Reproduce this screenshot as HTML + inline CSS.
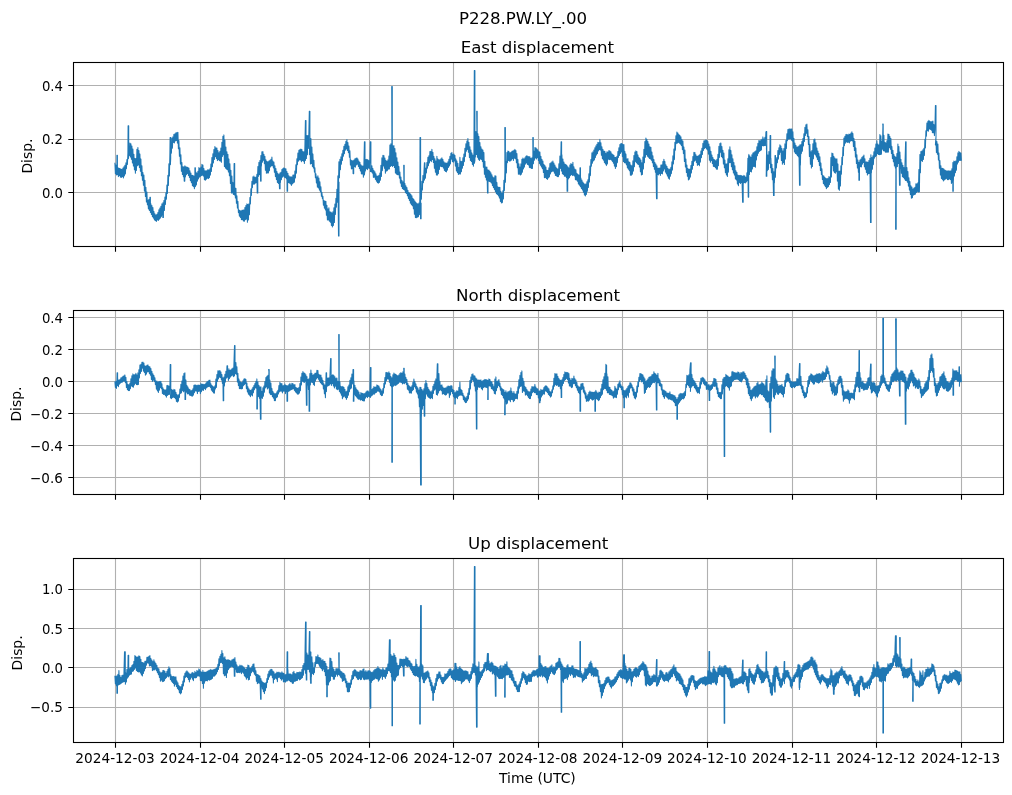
<!DOCTYPE html>
<html lang="en"><head><meta charset="utf-8"><title>P228.PW.LY_.00</title>
<style>html,body{margin:0;padding:0;background:#fff;}body{width:1012px;height:795px;overflow:hidden;}svg{display:block;will-change:transform;}text{font-family:"DejaVu Sans","Liberation Sans",sans-serif;fill:#000;}.t12{font-size:16.667px;}.t10{font-size:13.889px;}.g{stroke:#b0b0b0;stroke-width:1.1;fill:none;}.s{stroke:#000;stroke-width:1.1;fill:none;}.k{stroke:#000;stroke-width:1.1;fill:none;}.d{stroke:#1f77b4;stroke-width:1.05;fill:none;stroke-linejoin:round;stroke-linecap:butt;}</style></head><body>
<svg width="1012" height="795" viewBox="0 0 1012 795">
<rect width="1012" height="795" fill="#fff"/>
<text class="t12" x="523" y="23.7" text-anchor="middle" style="letter-spacing:-0.08px">P228.PW.LY_.00</text>
<g>
<path class="g" d="M115.50 62.50V246.50M200.50 62.50V246.50M284.50 62.50V246.50M369.50 62.50V246.50M453.50 62.50V246.50M538.50 62.50V246.50M622.50 62.50V246.50M707.50 62.50V246.50M792.50 62.50V246.50M876.50 62.50V246.50M961.50 62.50V246.50M73.50 85.50H1003.50M73.50 139.50H1003.50M73.50 192.50H1003.50"/>
<clipPath id="c0"><rect x="73.50" y="62.50" width="930.00" height="184.00"/></clipPath>
<path class="d" clip-path="url(#c0)" d="M114.9 162.7L115.4 173.8L115.9 164.9L116.4 175.0L116.9 165.8L116.9 155.2L117.4 155.2L117.4 170.2L117.4 174.6L117.9 167.6L118.4 176.6L118.9 168.2L119.4 175.6L119.9 168.4L120.4 177.3L120.9 169.0L121.4 177.5L121.9 169.4L122.4 176.7L122.9 168.0L123.4 178.0L123.9 166.8L124.4 176.0L124.9 165.3L125.4 173.9L125.9 162.9L126.4 168.7L126.9 159.5L127.4 164.4L127.9 152.9L128.1 125.7L128.7 125.7L128.7 155.8L128.4 158.7L128.9 146.3L129.4 155.5L129.9 143.0L130.4 157.1L130.9 143.7L131.4 159.2L131.9 146.0L132.4 163.0L132.9 149.1L133.4 165.9L133.9 154.3L134.4 169.8L134.9 158.4L135.4 173.2L135.9 158.5L136.4 170.5L136.9 149.3L137.4 165.7L137.9 147.6L138.4 165.0L138.9 150.5L139.4 167.6L139.9 153.9L140.4 171.3L140.9 158.9L141.4 175.7L141.9 165.7L142.4 180.2L142.9 172.6L143.4 185.3L143.9 175.1L144.4 191.1L144.9 180.3L145.4 196.4L145.9 187.2L146.4 201.9L146.9 192.0L147.4 204.8L147.9 200.3L148.4 209.0L148.9 199.2L149.4 210.5L149.9 201.1L149.9 197.3L150.4 197.3L150.4 206.7L150.4 212.4L150.9 203.7L151.4 214.4L151.9 205.5L152.4 216.7L152.9 207.6L153.4 218.1L153.9 211.4L154.4 219.9L154.9 213.8L155.4 220.8L155.9 215.1L156.4 221.5L156.9 214.3L157.4 219.9L157.9 212.5L158.4 220.4L158.9 209.7L159.4 219.2L159.9 208.0L160.4 218.1L160.9 206.3L161.4 216.6L161.9 203.9L162.4 214.9L162.9 202.8L162.8 217.4L163.4 217.4L163.4 208.1L163.4 213.4L163.9 200.6L164.4 210.5L164.9 197.1L165.4 204.5L165.9 192.8L166.4 199.3L166.9 185.1L167.4 193.4L167.9 175.4L168.4 185.4L168.9 163.7L169.4 176.0L169.9 152.6L170.1 137.5L170.7 137.5L170.7 158.6L170.4 164.6L170.9 143.5L171.4 153.2L171.9 138.1L172.4 148.3L172.9 136.9L173.4 142.4L173.9 134.4L174.4 142.9L174.9 133.8L175.4 141.0L175.9 132.7L176.4 140.5L176.9 132.6L177.4 143.1L177.9 132.2L178.4 148.8L178.9 140.5L179.4 156.2L179.9 147.8L180.4 164.0L180.9 154.7L181.4 171.2L181.9 162.6L182.4 174.5L182.9 166.7L183.4 176.8L183.9 166.8L184.2 181.1L184.8 181.1L184.8 172.0L184.4 177.2L184.9 165.8L185.4 177.0L185.9 166.8L186.4 174.8L186.9 167.1L187.4 173.4L187.9 167.4L188.4 175.5L188.9 168.1L189.4 177.5L189.9 170.8L190.4 180.8L190.9 173.0L191.4 182.7L191.9 175.2L192.4 185.8L192.9 175.3L193.4 186.6L193.9 176.0L194.4 188.8L194.9 175.4L194.9 167.8L195.4 167.8L195.4 181.0L195.4 186.6L195.9 171.9L196.4 185.0L196.9 173.0L197.4 181.1L197.9 171.2L198.4 179.0L198.9 167.5L199.4 177.2L199.9 168.2L200.4 176.5L200.9 167.1L201.4 175.7L201.9 164.2L202.4 175.3L202.9 165.0L203.4 176.0L203.9 168.5L204.4 179.8L204.9 170.8L205.4 180.3L205.9 170.9L206.4 179.3L206.9 170.6L207.4 178.3L207.9 169.6L208.4 178.6L208.9 170.1L209.4 177.8L209.9 168.8L210.4 175.1L210.9 164.0L211.4 171.4L211.9 157.6L212.4 166.7L212.9 153.7L213.4 162.9L213.9 149.6L214.4 159.5L214.9 146.5L215.4 156.6L215.9 147.8L216.4 158.6L216.9 148.1L217.4 160.6L217.9 150.6L218.4 159.8L218.9 152.8L219.4 160.8L219.9 151.3L220.4 161.1L220.9 148.1L221.4 162.2L221.9 142.2L222.4 156.5L222.9 136.3L223.4 154.7L223.9 134.9L224.4 166.5L224.9 139.9L225.4 168.1L225.9 147.0L226.4 169.1L226.9 151.7L227.4 169.7L227.9 154.2L228.4 171.9L228.9 158.9L229.4 175.7L229.9 163.7L230.4 183.4L230.9 170.2L231.4 193.0L231.9 176.0L232.4 193.0L232.9 182.4L233.4 194.4L233.9 185.2L234.1 163.6L234.7 163.6L234.7 190.1L234.4 195.0L234.9 187.6L235.4 198.0L235.9 188.3L236.4 203.2L236.9 195.8L237.4 208.1L237.9 201.3L238.4 212.6L238.9 209.9L239.4 216.3L239.9 210.3L240.4 217.5L240.9 211.1L241.4 219.8L241.9 210.2L242.4 219.8L242.9 210.1L243.4 221.1L243.9 209.9L244.4 221.3L244.9 207.6L245.4 219.7L245.9 205.6L246.4 219.1L246.9 203.9L247.4 222.2L247.9 204.4L248.4 219.9L248.9 203.9L249.4 214.8L249.9 197.6L250.4 203.9L250.9 188.8L251.4 195.5L251.9 181.4L252.4 187.8L252.9 176.9L253.4 184.1L253.9 176.1L254.4 184.1L254.9 177.4L255.4 183.3L255.9 177.1L256.4 182.7L256.9 174.3L257.2 192.9L257.8 192.9L257.8 177.5L257.4 180.6L257.9 166.6L258.4 176.5L258.9 162.4L259.4 174.8L259.9 160.5L260.6 181.1L261.1 181.1L261.1 166.5L260.4 172.5L260.9 155.5L261.4 166.3L261.9 151.7L262.4 162.2L262.9 151.6L263.4 160.3L263.9 154.2L264.4 163.6L264.9 156.3L265.4 170.3L265.9 159.8L266.4 173.2L266.9 161.4L267.4 172.9L267.9 161.8L268.4 172.9L268.9 161.1L269.4 170.7L269.9 160.3L270.4 167.0L270.9 159.3L271.4 166.0L271.9 157.0L272.4 165.7L272.9 161.1L273.4 168.0L273.9 162.1L274.4 172.2L274.9 165.8L275.4 176.6L275.9 168.5L276.4 179.6L276.9 171.5L277.4 182.4L277.9 173.3L278.4 183.4L278.9 174.6L279.5 188.7L280.1 188.7L280.1 179.4L279.4 184.2L279.9 173.0L280.4 182.6L280.9 172.2L281.4 179.8L281.9 169.5L282.4 177.2L282.9 168.5L283.4 176.3L283.9 167.7L284.4 177.3L284.9 168.4L285.4 177.6L285.9 168.7L286.4 178.6L286.9 171.5L287.1 191.2L287.6 191.2L287.6 176.3L287.4 181.0L287.9 173.2L288.4 182.6L288.9 175.8L289.4 183.1L289.9 176.7L290.4 184.0L290.9 176.8L291.4 185.4L291.9 176.9L292.4 183.9L292.9 175.1L293.4 183.0L293.9 174.9L294.4 182.3L294.9 171.1L295.4 177.9L295.9 164.7L296.4 173.3L296.9 158.8L297.4 164.7L297.9 153.0L298.4 161.2L298.9 150.3L299.4 160.0L299.9 149.5L300.4 160.1L300.9 149.1L301.4 161.7L301.9 149.5L302.4 160.6L302.9 151.6L303.4 161.1L303.9 151.8L304.4 163.5L304.9 146.4L305.4 120.6L306.0 120.6L306.0 153.4L305.4 160.5L305.9 133.3L306.4 158.4L306.9 135.6L307.4 154.7L307.9 135.5L308.4 148.5L308.9 131.3L309.3 111.3L309.9 111.3L309.9 142.9L309.4 154.6L309.9 134.5L310.4 164.0L310.9 138.6L311.4 163.5L311.9 147.0L312.4 166.6L312.9 153.9L313.4 167.9L313.9 160.3L314.4 172.1L314.9 167.8L315.4 177.7L315.9 173.7L316.4 182.9L316.9 177.1L317.4 187.1L317.9 175.8L318.4 187.9L318.9 178.1L319.4 190.1L319.9 181.7L320.4 191.6L320.9 186.8L321.4 196.3L321.9 192.2L322.4 198.8L322.9 196.3L323.4 205.2L323.9 200.4L324.4 208.3L324.9 201.1L325.4 210.0L325.9 201.2L326.4 215.3L326.9 205.2L327.4 220.0L327.9 208.9L328.4 219.9L328.9 207.7L329.4 221.2L329.9 211.7L330.4 222.3L330.9 212.0L331.4 225.4L331.9 212.9L332.4 227.0L332.9 211.8L333.4 225.6L333.9 207.7L334.4 222.5L334.9 204.1L335.4 214.5L335.9 198.4L336.4 207.2L336.9 189.3L337.4 202.2L337.9 175.9L338.5 235.9L339.0 235.9L339.0 182.0L338.4 188.1L338.9 161.7L339.4 177.7L339.9 159.4L340.4 169.8L340.9 156.9L341.4 164.3L341.9 153.7L342.4 160.5L342.9 150.2L343.4 156.2L343.9 146.3L344.4 153.8L344.9 144.3L345.4 150.2L345.9 141.4L346.4 148.9L346.9 139.5L347.4 150.4L347.9 142.6L348.4 152.6L348.9 146.0L349.4 157.2L349.9 150.8L350.4 164.9L350.9 159.9L351.4 169.0L351.9 160.5L352.4 168.8L352.9 160.8L353.1 173.6L353.7 173.6L353.7 164.6L353.4 168.5L353.9 160.0L354.4 166.7L354.9 158.8L355.4 167.3L355.9 158.3L356.4 165.0L356.9 157.8L357.4 164.2L357.9 158.9L358.4 166.5L358.9 161.0L359.4 168.6L359.9 162.3L360.4 171.0L360.9 164.8L361.4 174.0L361.9 165.8L362.4 174.0L362.9 166.1L363.4 177.2L363.9 164.6L364.4 141.7L365.0 141.7L365.0 169.7L364.4 174.9L364.9 162.3L365.4 171.0L365.9 159.5L366.4 168.7L366.9 159.2L367.4 169.6L367.9 159.7L368.4 168.1L368.9 160.6L369.4 168.8L369.9 162.0L370.3 141.7L370.9 141.7L370.9 166.8L370.4 171.6L370.9 164.2L371.4 172.0L371.9 165.8L372.4 173.1L372.9 168.5L373.4 177.4L373.9 170.5L374.4 177.2L374.9 171.7L375.4 179.4L375.9 173.8L376.4 181.3L376.9 176.0L377.4 182.7L377.9 176.1L378.4 183.2L378.9 175.2L379.4 182.5L379.9 173.0L380.4 180.2L380.9 165.4L381.4 176.4L381.9 157.9L382.4 170.6L382.9 155.4L383.4 166.0L383.9 155.4L384.4 168.3L384.9 158.1L385.4 173.2L385.9 160.3L386.4 171.1L386.9 161.2L387.4 170.6L387.9 159.9L388.4 169.2L388.9 156.1L389.4 168.9L389.9 145.1L390.4 166.4L390.9 143.8L391.4 165.5L391.9 143.9L391.7 86.4L392.3 86.4L392.3 155.3L392.4 166.6L392.9 146.0L393.4 165.4L393.9 145.5L394.4 167.4L394.9 148.5L395.4 172.9L395.9 152.8L396.4 174.1L396.9 157.7L397.4 174.8L397.9 162.1L398.4 174.7L398.9 166.4L399.4 178.1L399.9 172.1L400.4 183.1L400.9 177.0L401.4 186.4L401.9 180.3L402.4 188.6L402.9 181.8L403.4 189.5L403.9 181.1L403.7 165.3L404.2 165.3L404.2 185.5L404.4 190.0L404.9 183.4L405.4 192.7L405.9 185.7L406.4 193.5L406.9 187.6L407.4 195.8L407.9 190.2L408.4 198.4L408.9 192.6L409.4 200.4L409.9 193.3L410.4 203.1L410.9 194.4L411.4 204.8L411.9 195.8L412.4 205.8L412.9 198.2L413.4 208.8L413.9 199.4L414.4 214.3L414.9 201.1L415.4 217.6L415.9 202.3L416.4 217.7L416.9 203.5L417.4 217.3L417.9 203.9L418.4 216.7L418.9 203.0L419.4 214.7L419.9 196.1L420.0 137.5L420.6 137.5L420.6 203.1L420.5 218.7L421.1 218.7L421.1 203.1L420.4 210.2L420.9 188.7L421.4 199.2L421.9 181.3L422.4 190.1L422.9 175.6L423.4 182.7L423.9 173.2L424.4 162.8L424.9 162.8L424.9 176.6L424.4 180.1L424.9 170.2L425.4 178.2L425.9 168.1L426.4 172.9L426.9 162.6L427.4 168.2L427.9 157.3L428.4 165.7L428.9 155.8L429.4 163.0L429.9 151.5L430.4 160.6L430.9 151.4L431.4 161.6L431.9 149.3L432.4 159.5L432.9 152.2L433.4 162.4L433.9 156.5L434.4 168.3L434.9 158.7L435.4 172.3L435.9 161.0L436.4 175.1L436.9 156.3L437.4 175.1L437.9 158.9L438.4 173.8L438.9 159.8L439.4 169.4L439.9 159.7L440.4 166.2L440.9 158.7L441.4 166.8L441.9 157.8L442.4 166.8L442.9 159.4L443.4 168.1L443.9 161.8L444.4 170.4L444.9 162.9L445.4 171.5L445.9 162.8L446.4 171.9L446.9 163.3L447.4 170.3L447.9 161.8L448.4 167.5L448.9 159.2L449.4 165.9L449.9 156.3L450.4 164.0L450.9 153.2L451.4 159.1L451.9 152.4L452.4 161.7L452.9 154.6L453.4 162.3L453.9 153.9L454.4 161.0L454.9 155.2L455.4 166.1L455.9 158.9L456.4 170.9L456.9 160.9L457.4 172.6L457.9 163.3L458.4 174.5L458.9 167.5L459.4 173.9L459.9 157.3L460.4 174.1L460.9 161.4L461.4 171.8L461.9 161.3L462.4 168.3L462.9 157.7L463.4 165.5L463.9 154.1L464.4 161.6L464.9 148.3L465.4 156.5L465.9 143.8L466.4 151.2L466.9 141.1L467.4 149.5L467.9 138.5L468.4 152.3L468.9 142.3L469.4 157.6L469.9 146.8L470.4 160.4L470.9 150.1L471.4 161.5L471.9 152.9L472.4 164.4L472.9 155.1L473.4 166.3L473.9 157.2L474.3 70.6L474.9 70.6L474.9 160.3L474.4 163.3L474.9 141.5L475.4 157.0L475.9 131.6L476.4 154.4L476.9 132.7L476.7 111.3L477.2 111.3L477.2 145.0L477.4 157.3L477.9 133.7L478.4 159.3L478.9 136.4L479.4 160.5L479.9 142.6L480.4 159.1L480.9 146.8L481.4 159.6L481.9 149.1L482.4 161.6L482.9 150.1L483.4 167.2L483.9 152.4L484.4 174.3L484.9 161.3L485.4 177.2L485.9 167.1L486.4 180.0L486.9 167.0L487.5 192.9L488.0 192.9L488.0 174.6L487.4 182.1L487.9 169.9L488.4 181.2L488.9 170.0L489.4 181.5L489.9 171.3L490.4 181.9L490.9 172.7L491.4 183.0L491.9 174.7L492.4 185.6L492.9 176.9L493.4 187.6L493.9 177.8L494.4 189.6L494.9 175.8L495.4 191.7L495.9 175.9L496.4 193.7L496.9 182.4L497.4 194.4L497.9 186.9L498.4 195.9L498.9 187.3L499.4 197.9L499.9 187.3L500.4 201.4L500.9 191.4L501.4 202.9L501.9 193.2L502.4 202.6L502.9 190.7L503.4 199.0L503.9 180.2L504.4 190.6L504.9 170.2L504.8 127.4L505.4 127.4L505.4 176.2L505.4 182.3L505.9 161.3L506.4 172.9L506.9 152.6L507.4 162.7L507.9 151.0L508.4 160.4L508.9 151.4L509.4 161.2L509.9 152.8L510.4 160.9L510.9 152.3L511.4 160.3L511.9 151.3L512.4 158.8L512.9 150.9L513.4 160.5L513.9 150.3L514.4 158.2L514.9 149.2L515.4 158.8L515.9 150.6L516.4 162.8L516.9 153.5L517.4 167.8L517.9 159.4L518.4 174.3L518.9 163.7L519.4 174.1L519.9 167.1L520.4 175.1L520.9 163.9L521.4 174.2L521.9 159.3L522.4 172.3L522.9 158.0L523.4 168.9L523.9 159.0L524.4 167.1L524.9 157.8L525.4 164.1L525.9 156.2L526.4 162.9L526.9 155.6L527.4 164.4L527.9 156.6L528.4 164.9L528.9 156.5L529.4 167.6L529.9 156.7L530.4 167.7L530.9 158.4L531.4 168.5L531.9 157.7L532.4 168.4L532.9 154.4L532.8 137.5L533.3 137.5L533.3 159.1L533.4 163.8L533.9 151.3L534.4 160.3L534.9 147.6L535.4 157.9L535.9 147.8L536.4 159.0L536.9 148.9L537.4 157.7L537.9 149.9L538.4 160.6L538.9 151.6L539.4 163.6L539.9 152.0L540.4 165.2L540.9 156.3L541.4 167.0L541.9 159.2L542.4 168.6L542.9 161.1L543.4 172.4L543.9 164.2L544.4 177.8L544.9 165.5L545.4 177.4L545.9 167.0L546.4 178.6L546.9 170.3L547.4 179.4L547.9 170.3L548.4 178.0L548.9 167.9L549.4 176.9L549.9 163.6L550.4 174.0L550.9 162.8L551.4 171.9L551.9 161.9L552.4 171.3L552.9 161.1L553.4 171.2L553.9 163.0L554.4 173.1L554.9 165.0L555.4 175.4L555.9 167.0L556.4 176.0L556.9 168.4L557.4 176.7L557.9 169.1L558.4 176.7L558.9 163.7L559.4 174.7L559.9 156.1L560.4 168.5L560.9 152.0L561.1 141.7L561.6 141.7L561.6 161.5L561.4 171.0L561.9 154.8L562.4 173.7L562.9 159.0L563.4 174.5L563.9 162.0L564.4 176.2L564.9 164.0L565.4 176.3L565.9 164.6L566.4 177.4L566.9 165.4L567.1 191.2L567.7 191.2L567.7 172.0L567.4 178.5L567.9 166.7L568.4 179.0L568.9 167.9L569.4 177.8L569.9 165.1L570.4 175.7L570.9 163.5L571.4 174.6L571.9 164.3L572.4 175.6L572.9 162.3L573.4 175.3L573.9 166.7L574.4 176.0L574.9 169.0L575.4 179.8L575.9 169.7L576.4 180.0L576.9 173.2L577.4 181.2L577.9 174.3L578.4 184.0L578.9 175.1L579.4 185.3L579.9 176.6L580.0 167.8L580.5 167.8L580.5 181.7L580.4 186.7L580.9 178.1L581.4 188.4L581.9 180.0L582.4 189.9L582.9 182.0L583.4 192.2L583.9 183.3L584.4 195.0L584.9 184.5L585.4 195.9L585.9 183.9L586.4 194.5L586.9 181.8L587.4 191.2L587.9 179.7L588.4 187.5L588.9 173.7L589.4 182.1L589.9 166.1L590.4 175.6L590.9 159.6L591.4 166.3L591.9 152.9L592.4 163.3L592.9 151.9L593.4 161.0L593.9 150.0L594.4 160.0L594.9 147.7L595.4 157.6L595.9 145.9L596.4 155.1L596.9 144.2L597.4 153.7L597.9 142.4L598.4 150.9L598.9 142.5L599.4 149.7L599.9 139.4L600.4 150.0L600.9 142.7L601.4 155.2L601.9 146.7L602.4 158.7L602.9 149.3L603.4 160.1L603.9 151.1L604.4 162.6L604.9 151.4L605.4 164.0L605.9 153.4L606.4 165.6L606.9 151.9L607.4 163.9L607.9 151.9L608.4 159.3L608.9 150.6L609.4 159.7L609.9 150.9L610.4 159.4L610.9 151.7L611.4 160.1L611.9 153.8L612.4 161.5L612.9 154.6L613.4 163.2L613.9 155.2L614.4 166.1L614.9 157.2L615.4 168.4L615.9 157.4L616.4 166.7L616.9 156.3L617.4 162.6L617.9 151.6L618.4 157.5L618.9 147.7L619.4 155.5L619.9 144.6L620.4 153.4L620.9 143.6L621.4 152.0L621.9 143.4L622.4 156.6L622.9 144.4L623.4 161.5L623.9 144.6L624.4 162.7L624.9 151.4L625.4 163.0L625.9 153.9L626.4 164.8L626.9 159.0L627.4 168.0L627.9 158.5L628.4 169.3L628.9 161.7L629.4 170.7L629.9 162.4L630.4 175.3L630.9 165.1L631.4 175.3L631.9 165.8L632.4 174.2L632.9 160.9L633.4 171.1L633.9 155.6L634.4 166.8L634.9 152.0L635.4 161.6L635.9 150.9L636.4 162.7L636.9 151.5L637.4 163.9L637.9 154.9L638.4 164.4L638.9 157.3L639.4 167.0L639.9 158.4L640.4 171.7L640.9 160.0L641.4 174.9L641.9 162.8L642.4 174.4L642.9 157.1L643.4 168.9L643.9 149.4L644.4 162.7L644.9 141.5L645.4 157.2L645.9 138.1L646.4 154.6L646.9 139.2L647.4 156.3L647.9 141.6L648.4 157.3L648.9 144.1L649.4 158.5L649.9 146.7L650.4 159.1L650.9 147.2L651.4 160.3L651.9 152.1L652.4 162.7L652.9 155.7L653.4 166.4L653.9 159.6L654.4 169.3L654.9 162.6L655.4 172.3L655.9 164.1L656.5 198.8L657.1 198.8L657.1 169.3L656.4 174.5L656.9 165.8L657.4 174.8L657.9 168.2L658.4 175.0L658.9 168.0L659.4 173.8L659.9 168.0L660.4 175.4L660.9 165.1L661.4 173.4L661.9 164.7L662.4 174.0L662.9 161.6L663.4 171.0L663.9 159.3L664.4 168.9L664.9 161.4L665.4 172.1L665.9 164.7L666.4 174.0L666.9 166.3L667.4 176.0L667.9 168.3L668.4 178.2L668.9 169.5L669.4 179.3L669.9 169.1L670.4 176.2L670.9 167.3L671.4 173.6L671.9 161.9L672.4 170.1L672.9 155.9L673.4 164.0L673.9 149.0L674.4 159.6L674.9 142.3L675.4 150.2L675.9 135.7L676.4 143.6L676.9 132.0L677.4 143.1L677.9 133.0L678.4 142.5L678.9 134.6L679.4 143.3L679.9 135.4L680.4 144.3L680.9 136.8L681.4 145.6L681.9 139.6L682.4 149.6L682.9 141.0L683.4 153.6L683.9 146.9L684.4 161.4L684.9 150.1L685.4 167.0L685.9 159.1L686.4 172.5L686.9 165.0L687.4 176.3L687.9 168.6L688.4 179.9L688.9 169.3L689.4 179.1L689.9 169.0L690.4 177.1L690.9 165.5L691.4 172.9L691.9 161.2L692.4 169.3L692.9 156.5L693.4 165.5L693.9 152.4L694.4 161.3L694.9 152.4L695.4 160.3L695.9 154.7L696.4 162.5L696.9 156.3L697.4 165.5L697.9 156.0L698.4 164.6L698.9 155.3L699.4 165.7L699.9 154.4L700.4 162.1L700.9 151.0L701.4 157.6L701.9 148.2L702.4 154.5L702.9 143.4L703.4 150.5L703.9 140.8L704.4 148.7L704.9 140.5L705.4 147.6L705.9 139.9L706.4 148.9L706.9 140.2L707.4 149.9L707.9 141.5L708.4 154.1L708.9 144.1L709.4 160.2L709.9 146.7L710.4 162.2L710.9 151.3L711.4 160.4L711.9 155.1L712.4 163.6L712.9 157.6L713.4 166.5L713.9 159.3L714.4 166.6L714.9 159.9L715.4 167.7L715.9 160.8L716.4 169.2L716.9 159.3L717.4 169.3L717.9 154.4L718.4 165.7L718.9 146.4L719.4 157.5L719.9 143.6L720.4 152.3L720.9 142.9L721.4 156.6L721.9 146.5L722.4 157.8L722.9 150.3L723.4 164.0L723.9 153.0L724.4 167.7L724.9 160.0L725.4 172.7L725.9 164.0L726.4 174.9L726.9 163.8L727.4 176.5L727.9 158.7L728.4 172.1L728.9 149.8L729.4 162.8L729.9 146.7L730.4 162.6L730.9 150.4L731.4 166.8L731.9 154.7L732.4 169.7L732.9 158.7L733.4 173.0L733.9 162.5L734.4 175.0L734.9 165.7L735.4 178.9L735.9 170.7L736.4 180.0L736.9 172.2L737.4 183.9L737.9 175.1L738.4 185.8L738.9 175.6L739.4 182.5L739.9 175.4L740.4 183.6L740.9 175.2L741.4 182.6L741.9 175.7L742.6 202.2L743.2 202.2L743.2 179.4L742.4 183.1L742.9 176.2L743.4 183.5L743.9 175.2L744.4 182.8L744.9 176.1L745.4 182.9L745.9 177.4L746.4 182.0L746.9 172.9L747.4 180.8L747.9 158.3L748.2 197.1L748.7 197.1L748.7 166.1L748.6 155.4L749.1 155.4L749.1 166.1L748.4 174.0L748.9 154.4L749.4 174.4L749.9 156.0L750.4 171.4L750.9 157.3L751.4 171.9L751.9 154.7L752.4 169.1L752.9 153.0L753.4 166.6L753.9 152.4L754.4 166.4L754.9 151.5L755.4 167.2L755.9 150.8L756.4 159.9L756.9 146.7L757.4 155.7L757.9 143.4L758.4 153.2L758.9 140.5L759.4 151.5L759.9 140.9L760.4 150.7L760.9 140.1L761.4 150.0L761.9 139.2L762.4 145.6L762.9 136.9L763.4 145.9L763.9 139.1L764.4 145.6L764.9 137.2L765.4 145.8L765.9 132.0L766.2 131.6L766.7 131.6L766.7 140.5L766.2 176.2L766.8 176.2L766.8 140.5L766.4 149.1L766.9 152.1L767.4 170.8L767.9 155.0L768.4 169.6L768.9 151.6L769.4 163.8L769.9 152.3L770.1 135.6L770.7 135.6L770.7 160.0L770.4 167.7L770.9 158.3L771.4 172.8L771.9 164.2L772.4 179.7L772.9 168.6L773.5 195.5L774.1 195.5L774.1 175.8L773.4 183.0L773.9 171.7L774.4 183.0L774.9 168.2L775.0 155.4L775.5 155.4L775.5 172.8L775.4 177.3L775.9 158.7L776.4 168.0L776.9 157.5L777.4 162.7L777.9 150.5L778.4 159.1L778.9 147.7L779.4 154.5L779.9 144.7L780.4 152.3L780.9 145.9L781.4 160.5L781.9 148.5L782.4 164.3L782.9 151.0L783.4 162.7L783.9 148.6L784.4 164.4L784.9 143.9L785.4 159.1L785.9 140.5L786.4 148.5L786.9 133.8L787.4 140.7L787.9 129.6L788.4 139.1L788.9 129.1L789.4 138.9L789.9 128.9L790.4 138.7L790.9 129.0L791.4 140.3L791.9 128.9L792.4 141.1L792.9 131.8L793.4 148.1L793.9 138.3L794.4 151.9L794.9 143.1L795.4 153.5L795.9 145.2L796.4 154.3L796.9 147.0L797.4 155.8L797.9 146.7L798.4 156.8L798.9 146.1L799.5 185.3L800.1 185.3L800.1 155.6L799.4 165.1L799.9 144.9L800.4 164.9L800.9 144.5L801.4 153.6L801.9 141.6L802.4 151.3L802.9 138.6L803.4 145.9L803.9 133.7L804.4 141.4L804.9 127.4L805.4 135.5L805.9 124.7L806.4 133.3L806.9 124.1L807.4 136.5L807.9 129.8L808.4 144.5L808.9 136.4L809.4 156.4L809.9 144.2L810.4 164.3L810.9 151.7L811.4 168.0L811.9 150.5L812.4 166.4L812.9 143.8L813.4 158.7L813.9 139.5L814.4 154.1L814.9 138.9L815.4 155.0L815.9 142.8L816.4 157.0L816.9 148.0L817.4 159.5L817.9 151.1L818.4 161.5L818.9 153.4L819.4 165.4L819.9 156.7L820.4 170.5L820.9 162.9L821.4 174.6L821.9 168.8L822.4 179.5L822.9 175.2L823.4 183.6L823.9 176.0L824.4 185.2L824.9 177.4L825.4 186.6L825.9 178.3L826.4 188.6L826.9 178.7L827.4 187.5L827.9 178.4L828.4 186.7L828.9 176.6L829.4 184.6L829.9 177.0L830.4 182.5L830.9 157.6L831.4 176.9L831.9 153.1L832.4 165.5L832.9 153.6L833.4 170.9L833.9 156.4L834.4 172.6L834.9 158.1L835.4 173.3L835.9 159.1L836.4 171.8L836.9 158.8L837.4 181.1L837.9 163.9L838.4 189.1L838.9 171.2L839.4 190.2L839.9 171.1L840.4 185.9L840.9 165.9L841.4 174.3L841.9 157.2L842.4 164.7L842.9 147.3L843.4 155.7L843.9 138.0L844.4 145.7L844.9 136.3L845.4 143.1L845.9 134.6L846.4 142.0L846.9 134.3L847.4 142.4L847.9 134.9L848.4 142.2L848.9 134.0L849.4 143.0L849.9 134.2L850.4 141.2L850.9 133.1L851.4 140.7L851.9 131.7L852.4 141.0L852.9 133.4L853.4 146.4L853.9 138.3L854.4 150.4L854.9 141.3L855.4 157.0L855.9 147.9L856.4 163.4L856.9 154.7L857.4 168.0L857.9 160.0L858.4 172.3L858.9 162.2L858.9 180.3L859.5 180.3L859.5 165.5L859.4 168.9L859.9 160.0L860.4 166.8L860.9 159.0L861.4 167.0L861.9 157.4L862.4 164.1L862.9 156.3L863.4 162.4L863.9 155.1L864.4 166.7L864.9 158.7L865.4 169.2L865.9 162.0L866.4 172.5L866.9 161.7L867.4 175.1L867.9 162.3L868.4 173.7L868.9 160.5L869.4 173.5L869.9 158.2L870.5 222.4L871.1 222.4L871.1 166.4L870.4 174.7L870.9 154.7L871.4 173.0L871.9 157.6L872.4 169.2L872.9 155.8L873.4 164.6L873.9 151.8L874.4 158.3L874.9 148.0L875.4 156.7L875.9 144.0L876.4 155.7L876.9 140.7L877.4 153.7L877.9 144.0L878.4 154.4L878.9 145.1L879.4 154.8L879.9 134.5L880.4 154.4L880.9 135.7L881.4 154.3L881.9 141.2L882.4 149.3L882.9 125.7L882.7 124.0L883.2 124.0L883.2 138.3L883.4 150.8L883.9 135.2L884.4 151.0L884.9 142.3L885.4 152.2L885.9 142.9L886.4 152.3L886.9 140.8L887.4 152.2L887.9 134.0L888.4 152.1L888.9 134.2L889.4 147.8L889.9 136.4L890.4 149.2L890.9 138.6L891.4 153.4L891.9 146.4L892.4 158.6L892.9 150.2L893.4 161.7L893.9 154.4L894.4 166.0L894.9 156.2L895.4 168.0L895.9 157.3L895.6 229.2L896.2 229.2L896.2 162.4L896.4 167.5L896.9 153.5L897.4 166.6L897.9 144.0L898.4 163.4L898.9 146.6L899.5 185.3L900.1 185.3L900.1 155.2L899.4 163.8L899.9 152.0L900.4 168.4L900.9 159.3L901.4 173.3L901.9 162.7L902.4 176.8L902.9 165.3L903.4 177.5L903.9 167.5L904.4 179.1L904.9 167.3L905.6 141.7L906.1 141.7L906.1 173.9L905.4 180.5L905.9 167.6L906.4 180.7L906.9 167.5L907.4 182.2L907.9 171.5L908.4 186.1L908.9 177.7L909.4 190.1L909.9 181.4L910.4 194.4L910.9 185.7L911.4 198.2L911.9 187.0L912.4 197.7L912.9 189.1L913.4 195.1L913.9 188.0L914.4 194.6L914.9 187.3L915.4 194.2L915.9 183.8L916.4 192.6L916.9 183.8L917.4 191.4L917.9 182.8L918.4 192.1L918.9 169.5L919.4 191.8L919.9 154.6L920.4 172.7L920.9 151.5L921.4 160.6L921.9 151.0L922.4 161.5L922.9 149.8L923.4 159.5L923.9 148.3L924.4 155.5L924.9 139.3L925.4 148.0L925.9 130.8L926.4 136.2L926.9 123.1L927.4 130.7L927.9 121.3L928.4 131.3L928.9 120.2L929.4 129.0L929.9 121.2L930.4 129.4L930.9 121.7L931.4 130.3L931.9 121.6L932.4 132.7L932.9 121.0L933.4 132.7L933.9 124.6L934.4 135.6L934.9 129.7L935.4 105.6L936.0 105.6L936.0 137.3L935.4 144.9L935.9 137.5L936.4 152.6L936.9 141.6L937.4 154.3L937.9 144.1L938.4 159.9L938.9 153.1L939.4 168.2L939.9 160.5L940.4 174.9L940.9 165.8L941.4 178.5L941.9 168.2L942.4 179.6L942.9 168.3L943.4 181.0L943.9 169.1L944.4 179.9L944.9 170.1L945.4 179.3L945.9 170.6L946.4 178.4L946.9 171.1L947.4 179.7L947.9 170.7L948.4 179.7L948.9 170.8L949.4 179.0L949.9 171.1L950.4 179.6L950.9 170.8L951.4 183.5L951.9 168.7L952.4 182.2L952.9 162.5L952.8 191.2L953.3 191.2L953.3 171.5L953.4 180.6L953.9 161.0L954.4 176.1L954.9 161.5L955.4 172.8L955.9 160.9L956.4 170.3L956.9 156.7L957.4 164.1L957.9 152.9L958.4 162.2L958.9 151.4L959.4 160.4L959.9 152.2L960.4 160.5L960.9 153.0L961.4 160.8"/>
<path class="k" d="M115.50 246.50v5.25M200.50 246.50v5.25M284.50 246.50v5.25M369.50 246.50v5.25M453.50 246.50v5.25M538.50 246.50v5.25M622.50 246.50v5.25M707.50 246.50v5.25M792.50 246.50v5.25M876.50 246.50v5.25M961.50 246.50v5.25M73.50 85.50h-5.2M73.50 139.50h-5.2M73.50 192.50h-5.2"/>
<rect class="s" x="73.50" y="62.50" width="930.00" height="184.00"/>
<text class="t10" transform="translate(63.00 90.75) scale(0.955 1)" text-anchor="end">0.4</text>
<text class="t10" transform="translate(63.00 143.85) scale(0.955 1)" text-anchor="end">0.2</text>
<text class="t10" transform="translate(63.00 197.75) scale(0.955 1)" text-anchor="end">0.0</text>
<text class="t12" x="537.40" y="53.20" text-anchor="middle">East displacement</text>
<text class="t10" transform="translate(32.40 156.10) rotate(-90)" text-anchor="middle">Disp.</text>
</g>
<g>
<path class="g" d="M115.50 310.50V494.50M200.50 310.50V494.50M284.50 310.50V494.50M369.50 310.50V494.50M453.50 310.50V494.50M538.50 310.50V494.50M622.50 310.50V494.50M707.50 310.50V494.50M792.50 310.50V494.50M876.50 310.50V494.50M961.50 310.50V494.50M73.50 317.50H1003.50M73.50 349.50H1003.50M73.50 381.50H1003.50M73.50 413.50H1003.50M73.50 445.50H1003.50M73.50 477.50H1003.50"/>
<clipPath id="c1"><rect x="73.50" y="310.50" width="930.00" height="184.00"/></clipPath>
<path class="d" clip-path="url(#c1)" d="M114.9 381.5L115.4 387.5L115.9 381.3L116.4 388.5L116.9 380.2L117.1 372.8L117.6 372.8L117.6 382.9L117.4 385.6L117.9 379.0L118.4 386.8L118.9 380.2L119.4 384.3L119.9 379.4L120.4 383.3L120.9 377.9L121.4 382.5L121.9 377.2L122.4 382.1L122.9 376.3L123.4 381.3L123.9 375.7L124.4 381.2L124.9 374.9L125.4 382.7L125.9 377.2L126.4 387.4L126.9 381.6L127.4 389.8L127.9 384.2L128.4 390.6L128.9 384.7L129.4 390.6L129.9 383.0L130.4 388.7L130.9 378.8L131.4 385.9L131.9 375.8L132.4 386.8L132.9 373.9L133.4 387.3L133.9 374.9L134.4 385.0L134.9 374.5L135.4 383.5L135.9 373.3L136.4 384.6L136.9 374.9L137.4 384.8L137.9 372.9L138.4 384.4L138.9 369.7L139.4 377.9L139.9 365.1L140.4 373.5L140.9 364.2L141.4 371.4L141.9 362.2L142.4 368.1L142.9 362.0L143.4 371.2L143.9 363.0L144.4 372.5L144.9 365.9L145.4 375.1L145.9 366.0L146.4 374.1L146.9 365.3L147.4 371.9L147.9 364.7L148.4 371.8L148.9 366.2L149.4 373.7L149.9 366.8L150.4 375.2L150.9 368.5L151.4 379.5L151.9 371.3L152.4 381.5L152.9 373.8L153.4 380.2L153.9 375.4L154.4 381.5L154.9 377.8L155.4 384.6L155.9 380.9L156.4 389.2L156.9 381.0L157.4 390.9L157.9 382.0L158.4 392.4L158.9 381.6L159.4 390.1L159.9 381.4L160.4 387.6L160.9 381.3L161.4 388.7L161.9 383.7L162.4 393.5L162.9 387.8L163.4 394.4L163.9 389.4L164.4 394.4L164.9 390.1L165.4 395.7L165.9 389.8L166.4 397.2L166.9 385.6L167.4 395.5L167.9 385.4L168.4 394.6L168.9 386.1L169.4 394.5L169.9 387.8L170.2 364.4L170.8 364.4L170.8 392.9L170.4 398.0L170.9 389.6L171.4 398.7L171.9 389.4L172.4 397.7L172.9 390.4L173.4 397.3L173.9 389.2L174.4 397.6L174.9 389.8L175.4 398.7L175.9 392.3L176.4 401.4L176.9 394.3L177.4 402.1L177.9 395.5L178.4 401.3L178.9 394.4L179.4 397.5L179.9 389.1L180.4 393.5L180.9 384.4L181.4 392.9L181.9 381.0L182.4 390.6L182.9 376.1L183.4 391.8L183.9 373.6L184.4 390.9L184.9 372.8L185.0 399.4L185.6 399.4L185.6 382.1L185.4 391.3L185.9 379.9L186.4 392.3L186.9 385.4L187.4 393.9L187.9 386.9L188.4 393.7L188.9 388.9L189.4 395.1L189.9 389.5L190.4 395.5L190.9 390.8L191.4 396.0L191.9 390.3L192.4 396.2L192.9 388.7L193.4 395.1L193.9 385.3L194.4 392.7L194.9 384.8L195.4 390.9L195.9 385.0L196.4 391.1L196.9 385.5L197.4 393.6L197.9 385.1L198.4 391.4L198.9 385.1L199.4 391.1L199.9 385.3L200.4 393.6L200.9 383.5L201.4 391.7L201.9 384.2L202.4 390.1L202.9 384.1L203.4 390.5L203.9 384.5L204.4 388.5L204.9 384.3L205.4 389.8L205.9 383.0L206.4 388.0L206.9 381.7L207.4 387.1L207.9 381.2L208.4 386.6L208.9 380.3L209.4 386.5L209.9 380.1L210.4 387.5L210.9 383.8L211.4 390.2L211.9 385.3L212.4 391.4L212.9 386.3L213.4 393.0L213.9 387.0L214.4 393.2L214.9 385.8L215.4 389.0L215.9 379.0L216.4 387.4L216.9 374.6L217.4 381.4L217.9 370.8L218.4 378.9L218.9 370.8L219.4 377.3L219.9 370.6L220.4 377.6L220.9 371.9L221.4 380.0L221.9 374.6L222.4 383.4L222.9 377.9L223.2 400.7L223.7 400.7L223.7 383.7L223.4 389.5L223.9 377.0L224.4 386.1L224.9 374.3L225.4 382.1L225.9 371.2L226.4 378.1L226.9 367.9L227.0 365.7L227.6 365.7L227.6 372.6L227.4 377.3L227.9 370.2L228.4 380.4L228.9 368.8L229.4 378.6L229.9 370.3L230.4 377.1L230.9 369.8L231.4 375.9L231.9 368.7L232.4 375.2L232.9 368.0L233.4 376.8L233.9 365.1L234.5 345.5L235.0 345.5L235.0 370.6L234.4 376.0L234.9 360.8L235.4 373.7L235.9 362.5L236.4 374.2L236.9 366.7L237.4 381.9L237.9 373.3L238.4 385.6L238.9 378.9L239.4 388.7L239.9 381.0L240.4 388.7L240.9 382.3L241.4 388.9L241.9 382.5L242.4 388.6L242.9 380.8L243.4 385.7L243.9 379.1L244.4 384.8L244.9 378.5L245.4 383.6L245.9 379.4L246.4 388.7L246.9 383.0L247.4 392.0L247.9 386.7L248.4 394.2L248.9 388.7L249.4 395.2L249.9 390.0L250.4 396.7L250.9 390.4L251.4 394.9L251.9 389.0L252.4 395.9L252.9 387.3L253.4 392.8L253.9 385.5L254.4 389.7L254.9 383.5L255.4 388.0L255.9 381.3L256.4 388.1L256.9 378.9L256.8 409.0L257.4 409.0L257.4 384.7L257.4 390.5L257.9 381.7L258.4 396.6L258.9 385.2L259.4 398.3L259.9 386.9L260.4 419.3L261.0 419.3L261.0 392.8L260.4 398.6L260.9 386.8L261.4 398.0L261.9 391.4L262.4 398.5L262.9 387.8L263.4 396.2L263.9 386.0L264.4 392.2L264.9 381.6L265.4 388.0L265.9 377.5L266.4 386.9L266.9 376.3L267.4 388.9L267.9 375.3L268.4 387.9L268.9 371.8L268.6 369.5L269.2 369.5L269.2 382.4L269.4 393.1L269.9 380.0L270.4 394.6L270.9 383.1L271.4 394.4L271.9 388.4L272.4 396.8L272.9 391.4L273.4 398.1L273.9 393.1L274.4 400.7L274.9 393.8L275.4 400.7L275.9 393.6L276.4 397.6L276.9 391.8L277.4 396.9L277.9 390.2L278.4 393.9L278.9 385.6L279.4 392.0L279.9 382.3L280.4 391.3L280.9 383.5L281.4 391.3L281.9 383.5L282.4 392.9L282.9 385.7L283.4 391.3L283.9 385.4L284.4 391.1L284.9 384.1L285.4 393.6L285.9 385.4L286.4 391.8L286.9 385.5L287.0 401.3L287.6 401.3L287.6 388.5L287.4 391.6L287.9 385.7L288.4 391.4L288.9 384.6L289.4 390.9L289.9 383.2L290.4 390.2L290.9 384.9L291.4 389.6L291.9 383.3L292.4 389.2L292.9 383.5L293.4 388.8L293.9 384.8L294.4 390.5L294.9 384.5L295.4 392.0L295.9 387.6L296.4 392.9L296.9 387.9L297.4 394.1L297.9 388.4L298.4 394.1L298.9 387.4L299.4 393.1L299.9 383.5L300.4 390.7L300.9 377.1L301.4 385.0L301.9 373.2L302.4 381.1L302.9 371.6L303.4 382.0L303.9 372.8L304.4 382.4L304.9 373.2L305.4 381.2L305.9 374.7L306.4 405.2L307.0 405.2L307.0 379.6L306.4 384.4L306.9 376.5L307.4 384.9L307.9 379.5L308.4 389.5L308.9 378.8L309.1 411.3L309.7 411.3L309.7 382.8L309.4 386.8L309.9 373.6L310.4 384.9L310.9 370.0L311.4 382.3L311.9 373.4L312.4 382.5L312.9 375.2L313.4 384.4L313.9 374.4L314.4 385.6L314.9 373.3L315.4 381.1L315.9 373.1L316.4 378.9L316.9 370.3L317.4 377.8L317.9 370.4L318.4 379.3L318.9 374.2L319.4 381.2L319.9 375.1L320.4 382.7L320.9 375.0L321.4 384.0L321.9 377.7L322.4 384.7L322.9 380.2L323.4 388.9L323.9 383.7L324.4 393.7L324.9 385.0L325.4 397.7L325.9 379.7L326.1 372.8L326.6 372.8L326.6 385.7L326.4 391.6L326.9 377.7L327.4 386.2L327.9 378.0L328.4 385.7L328.9 377.8L329.4 385.1L329.9 376.7L330.6 358.6L331.1 358.6L331.1 380.3L330.4 383.8L330.9 376.1L331.4 385.5L331.9 375.3L332.4 383.8L332.9 374.6L333.4 385.9L333.9 375.6L334.4 387.9L334.9 376.7L335.4 386.1L335.9 378.5L336.4 388.9L336.9 377.9L337.4 389.7L337.9 381.2L338.4 389.3L338.9 381.8L338.7 334.5L339.2 334.5L339.2 386.6L339.4 391.4L339.9 381.7L340.4 393.0L340.9 386.2L341.4 395.2L341.9 386.8L342.4 398.7L342.9 386.4L343.4 397.0L343.9 387.3L344.4 396.3L344.9 389.2L345.4 397.6L345.9 391.7L346.4 399.4L346.9 391.0L347.4 397.7L347.9 386.8L348.4 395.3L348.9 385.1L349.4 391.8L349.9 380.3L350.4 388.9L350.9 377.8L351.4 388.1L351.9 374.0L352.4 383.9L352.9 374.2L353.0 369.5L353.6 369.5L353.6 381.4L353.3 401.3L353.9 401.3L353.9 381.4L353.4 388.6L353.9 380.7L354.4 394.5L354.9 385.3L355.4 395.8L355.9 387.7L356.4 397.0L356.9 389.6L357.4 398.3L357.9 390.6L358.4 399.1L358.9 392.0L359.4 399.3L359.9 394.9L360.4 400.2L360.9 392.6L361.4 399.8L361.9 393.2L362.4 400.6L362.9 393.4L363.4 400.9L363.9 393.7L364.4 401.0L364.9 393.4L365.4 398.1L365.9 392.1L366.4 396.6L366.9 391.1L367.4 397.6L367.9 390.7L368.4 396.5L368.9 391.9L369.4 397.0L369.9 391.3L370.4 367.6L371.0 367.6L371.0 394.4L370.4 397.5L370.9 391.0L371.4 396.0L371.9 389.5L372.4 395.3L372.9 388.3L373.4 394.1L373.9 386.6L374.4 394.2L374.9 387.2L375.4 393.0L375.9 386.9L376.4 392.5L376.9 384.9L377.4 391.3L377.9 385.4L378.4 391.2L378.9 386.0L379.4 391.9L379.9 388.1L380.4 394.4L380.9 389.6L381.4 395.8L381.9 391.1L382.4 395.4L382.9 388.6L383.4 393.1L383.9 383.3L384.4 387.7L384.9 377.5L385.4 384.0L385.9 372.6L386.4 380.8L386.9 372.4L387.4 379.0L387.9 372.9L388.4 379.1L388.9 371.8L389.4 382.2L389.9 373.2L390.4 385.6L390.9 376.5L391.4 386.6L391.9 377.8L391.8 462.3L392.4 462.3L392.4 382.4L392.4 387.0L392.9 374.8L393.4 386.2L393.9 373.0L394.4 385.3L394.9 374.0L395.4 385.6L395.9 374.2L396.4 384.9L396.9 375.2L397.4 384.2L397.9 375.7L398.4 383.5L398.9 374.9L399.4 382.3L399.9 373.4L400.4 382.3L400.9 372.6L401.4 382.5L401.9 373.2L402.4 383.9L402.9 371.8L403.4 383.3L403.9 372.7L403.7 368.3L404.2 368.3L404.2 378.2L404.4 383.7L404.9 374.0L405.4 382.7L405.9 377.4L406.4 384.4L406.9 379.6L407.4 389.3L407.9 383.6L408.4 390.1L408.9 385.5L409.4 393.0L409.9 386.6L410.4 392.9L410.9 387.2L411.4 393.3L411.9 385.8L412.4 390.6L412.9 382.4L413.4 389.7L413.9 379.1L414.4 386.6L414.9 381.6L415.4 388.2L415.9 383.9L416.4 392.1L416.9 386.5L417.4 394.0L417.9 387.9L418.4 397.9L418.9 390.0L419.4 406.8L419.9 387.3L420.6 484.9L421.2 484.9L421.2 404.0L420.4 420.7L420.9 387.2L420.7 484.9L421.3 484.9L421.3 401.8L421.4 416.5L421.9 389.2L422.4 409.1L422.9 390.8L423.4 405.5L423.9 388.8L424.2 416.1L424.8 416.1L424.8 396.4L424.4 403.9L424.9 383.8L425.4 398.8L425.9 380.5L426.4 394.1L426.9 383.4L427.4 396.1L427.9 387.4L428.4 397.3L428.9 389.4L429.4 398.0L429.9 390.9L430.4 398.7L430.9 391.9L431.4 397.8L431.9 390.8L432.4 398.8L432.9 386.3L433.4 393.5L433.9 384.3L434.4 390.1L434.9 381.0L435.4 389.1L435.9 378.9L436.4 394.5L436.9 377.0L437.3 363.8L437.9 363.8L437.9 386.2L437.4 395.3L437.9 373.0L438.4 393.0L438.9 373.6L439.4 390.8L439.9 381.2L440.4 390.0L440.9 385.3L441.4 390.7L441.9 384.8L442.4 394.1L442.9 387.1L443.4 393.6L443.9 388.2L444.4 394.5L444.9 388.1L445.4 395.1L445.9 387.9L446.4 394.8L446.9 386.9L447.4 393.1L447.9 386.1L448.4 393.0L448.9 386.0L449.4 397.6L449.9 386.5L450.4 394.9L450.9 385.5L451.4 391.4L451.9 385.9L452.4 393.4L452.9 389.5L453.4 396.5L453.9 390.3L454.4 397.9L454.9 392.8L454.8 403.9L455.3 403.9L455.3 395.8L455.4 398.7L455.9 391.7L456.4 397.5L456.9 390.5L457.4 398.7L457.9 391.4L458.4 396.2L458.9 387.4L459.4 395.5L459.9 382.1L460.4 395.1L460.9 389.2L461.4 395.3L461.9 390.3L462.4 395.7L462.9 393.3L463.4 399.6L463.9 395.7L464.4 401.2L464.9 397.1L465.4 402.8L465.9 398.0L466.4 402.5L466.9 396.4L467.4 400.7L467.9 393.0L468.4 399.0L468.9 388.5L469.4 394.4L469.9 380.5L470.4 388.9L470.9 377.0L471.4 382.6L471.9 374.4L472.4 380.0L472.9 373.7L473.4 381.3L473.9 375.8L474.4 386.0L474.9 375.9L475.4 391.0L475.9 378.1L476.4 428.9L476.9 428.9L476.9 384.7L476.4 391.4L476.9 379.1L477.4 389.6L477.9 380.3L478.4 386.9L478.9 379.7L479.4 387.4L479.9 380.2L480.4 386.9L480.9 379.7L481.4 388.7L481.9 381.4L482.4 389.9L482.9 380.6L483.4 387.6L483.9 380.1L484.4 386.9L484.9 379.4L485.4 387.1L485.9 379.5L486.4 387.4L486.9 379.7L487.4 387.9L487.9 380.4L487.7 399.4L488.2 399.4L488.2 383.4L488.4 386.4L488.9 378.9L489.4 385.9L489.9 379.4L490.4 386.2L490.9 381.2L491.4 388.8L491.9 382.1L492.4 389.2L492.9 384.4L493.4 390.6L493.9 386.7L494.4 393.6L494.9 379.0L495.4 394.1L495.9 376.9L496.4 390.7L496.9 381.6L497.4 387.7L497.9 380.8L498.4 385.5L498.9 379.5L499.4 386.7L499.9 383.0L500.4 390.2L500.9 386.7L501.4 394.5L501.9 388.2L502.4 395.5L502.9 389.3L503.4 397.9L503.9 389.9L504.4 399.2L504.9 392.2L504.6 414.8L505.2 414.8L505.2 396.7L505.4 401.3L505.9 390.7L506.4 404.1L506.9 392.7L507.4 403.2L507.9 391.7L508.4 399.9L508.9 391.6L509.4 400.1L509.9 390.9L510.4 401.7L510.9 387.9L511.4 399.5L511.9 391.4L512.4 399.7L512.9 393.2L513.4 401.8L513.9 391.5L514.4 400.6L514.9 393.7L515.4 398.8L515.9 394.0L516.4 398.5L516.9 391.2L517.4 399.0L517.9 386.9L518.4 393.2L518.9 379.8L519.4 388.2L519.9 375.4L520.4 386.4L520.9 372.5L521.4 385.9L521.9 370.9L522.4 392.5L522.9 378.2L523.4 390.9L523.9 381.2L524.4 391.2L524.9 386.6L525.4 395.3L525.9 387.5L526.4 394.4L526.9 389.5L527.4 395.7L527.9 391.0L528.4 397.4L528.9 391.7L529.4 398.6L529.9 391.8L530.4 398.6L530.9 389.0L531.4 395.8L531.9 386.5L532.4 392.8L532.9 386.7L533.4 391.8L533.9 386.8L534.4 392.8L534.9 384.4L535.4 392.7L535.9 387.0L536.4 394.6L536.9 388.6L537.4 394.8L537.9 388.9L538.4 398.0L538.9 391.0L539.5 402.6L540.0 402.6L540.0 394.7L539.4 398.4L539.9 390.9L540.4 400.7L540.9 389.3L541.4 396.9L541.9 390.3L542.4 395.2L542.9 389.7L543.4 394.0L543.9 387.6L544.4 394.2L544.9 386.2L545.4 390.9L545.9 385.5L546.4 391.4L546.9 386.2L547.4 392.6L547.9 387.8L548.4 394.4L548.9 388.7L549.4 395.5L549.9 391.2L550.4 397.1L550.9 392.0L551.4 396.2L551.9 389.9L552.4 392.7L552.9 385.9L553.4 389.2L553.9 378.3L554.4 386.3L554.9 373.6L555.4 384.6L555.9 374.0L556.4 385.4L556.9 373.7L557.4 385.0L557.9 376.4L558.4 386.5L558.9 378.5L559.4 386.2L559.9 379.9L560.4 388.7L560.9 380.4L561.2 397.4L561.7 397.4L561.7 384.3L561.4 388.2L561.9 379.7L562.4 385.7L562.9 377.5L563.4 383.4L563.9 374.4L564.4 380.6L564.9 371.9L565.4 379.7L565.9 372.6L566.4 378.4L566.9 372.4L567.4 379.5L567.9 372.5L568.4 382.9L568.9 373.6L569.4 385.9L569.9 378.4L570.4 386.3L570.9 380.3L571.4 387.7L571.9 378.3L572.4 387.3L572.9 378.7L573.4 383.8L573.9 376.0L574.4 383.5L574.9 378.8L575.4 385.8L575.9 380.0L576.4 387.7L576.9 382.5L577.4 390.3L577.9 385.7L578.4 392.4L578.9 386.8L579.4 393.7L579.9 387.0L580.0 411.3L580.6 411.3L580.6 390.6L580.4 394.1L580.9 384.0L581.4 389.6L581.9 383.6L582.4 389.0L582.9 383.2L583.4 392.2L583.9 386.9L584.4 393.9L584.9 390.8L585.4 398.2L585.9 392.9L586.4 401.5L586.9 396.0L587.4 401.0L587.9 394.6L588.4 401.3L588.9 392.3L589.4 400.2L589.9 391.1L590.4 398.4L590.9 392.0L591.4 399.3L591.9 392.1L592.4 400.1L592.9 392.2L593.4 399.7L593.9 392.2L594.4 398.8L594.9 391.8L594.9 411.2L595.5 411.2L595.5 395.6L595.4 399.5L595.9 390.4L596.4 398.8L596.9 392.0L597.4 399.4L597.9 393.3L598.4 400.8L598.9 392.1L599.4 400.0L599.9 392.2L600.4 397.6L600.9 388.7L601.4 395.6L601.9 384.2L602.4 394.2L602.9 379.7L603.4 389.7L603.9 376.7L604.4 388.6L604.9 373.2L605.4 388.6L605.9 364.2L606.0 365.3L606.6 365.3L606.6 377.3L606.4 390.3L606.9 373.7L607.4 392.7L607.9 376.8L608.4 392.7L608.9 387.1L609.4 394.5L609.9 387.2L610.4 394.7L610.9 389.6L611.4 395.1L611.9 390.3L612.4 395.7L612.9 391.8L613.4 398.2L613.9 391.1L614.4 397.2L614.9 386.3L615.4 397.2L615.9 388.0L616.4 397.6L616.9 389.2L617.4 394.2L617.9 384.2L618.4 389.7L618.9 382.7L619.4 386.9L619.9 380.7L620.4 387.4L620.9 384.8L621.4 389.6L621.9 386.6L622.4 394.8L622.9 386.8L623.4 397.7L623.9 390.2L623.9 407.7L624.4 407.7L624.4 393.7L624.4 397.1L624.9 390.7L625.4 397.0L625.9 389.8L626.4 397.9L626.9 388.4L627.4 395.2L627.9 386.6L628.4 397.3L628.9 385.3L629.4 392.5L629.9 382.8L630.4 388.1L630.9 382.9L631.4 387.6L631.9 384.9L632.4 391.0L632.9 387.2L633.4 395.3L633.9 389.0L634.4 397.9L634.9 392.1L635.4 399.0L635.9 392.3L636.4 396.9L636.9 386.1L637.4 392.3L637.9 382.0L638.4 386.6L638.9 377.2L639.4 381.4L639.9 373.6L640.4 379.7L640.9 373.6L641.4 382.0L641.9 374.2L642.4 381.5L642.9 374.9L643.4 383.7L643.9 377.1L644.4 393.5L644.9 378.7L645.4 392.4L645.9 381.4L646.4 389.4L646.9 380.3L647.4 387.7L647.9 378.9L648.4 386.8L648.9 377.3L649.4 387.5L649.9 376.9L650.4 386.6L650.9 376.4L651.4 384.7L651.9 374.8L652.4 383.1L652.9 374.2L653.4 382.5L653.9 371.7L654.4 382.7L654.9 373.3L655.4 381.5L655.9 374.0L656.4 410.0L656.9 410.0L656.9 378.1L656.4 382.2L656.9 375.3L657.4 382.9L657.9 373.3L658.4 382.8L658.9 378.4L659.4 385.8L659.9 379.9L660.4 386.1L660.9 383.4L661.4 390.0L661.9 384.6L662.4 394.4L662.9 389.8L663.4 396.8L663.9 390.0L664.4 398.4L664.9 390.8L665.4 396.0L665.9 391.5L666.4 397.0L666.9 393.0L667.4 398.0L667.9 393.0L668.4 399.3L668.9 393.2L669.4 398.9L669.9 391.7L670.4 399.4L670.9 394.2L671.4 400.0L671.9 394.5L672.4 400.1L672.9 394.7L673.4 401.4L673.9 395.5L674.4 402.6L674.9 395.7L675.4 405.7L675.9 397.4L676.4 405.7L676.9 399.2L676.9 419.3L677.5 419.3L677.5 402.1L677.4 405.0L677.9 397.5L678.4 403.9L678.9 394.8L679.4 402.5L679.9 393.7L680.4 401.0L680.9 393.2L681.4 399.7L681.9 393.7L682.4 398.6L682.9 393.5L683.4 399.0L683.9 392.7L684.4 397.9L684.9 391.4L685.4 395.7L685.9 384.3L686.4 387.5L686.9 375.2L687.4 384.6L687.9 375.7L688.4 385.7L688.9 374.8L689.4 387.6L689.9 369.9L690.5 362.7L691.1 362.7L691.1 380.7L690.4 391.5L690.9 369.5L691.4 387.2L691.9 374.4L692.4 386.0L692.9 378.6L693.4 385.4L693.9 380.3L694.4 387.7L694.9 381.5L695.4 389.0L695.9 383.6L696.4 391.2L696.9 385.5L697.4 393.0L697.9 387.4L698.4 392.5L698.9 387.3L699.4 393.6L699.9 382.5L700.4 388.2L700.9 378.4L701.4 384.1L701.9 377.8L702.4 381.2L702.9 377.3L703.4 383.4L703.9 378.4L704.4 384.9L704.9 379.8L705.4 385.2L705.9 381.9L706.4 389.4L706.9 382.1L707.4 389.1L707.9 385.0L708.4 389.8L708.9 384.2L709.2 400.4L709.7 400.4L709.7 387.4L709.4 390.6L709.9 385.7L710.4 390.5L710.9 385.0L711.4 389.6L711.9 384.2L712.4 388.5L712.9 381.8L713.4 386.1L713.9 378.4L714.4 386.5L714.9 378.6L715.4 386.1L715.9 379.3L716.4 389.2L716.9 383.1L717.4 393.6L717.9 388.1L718.4 396.6L718.9 392.4L719.4 397.5L719.9 392.4L720.4 398.7L720.9 392.2L721.4 398.7L721.9 384.7L722.4 393.9L722.9 379.1L723.4 388.8L723.9 377.5L724.2 456.5L724.7 456.5L724.7 383.3L724.4 389.2L724.9 377.2L725.4 386.6L725.9 374.4L726.4 385.6L726.9 375.4L727.4 386.7L727.9 376.0L728.4 387.8L728.9 377.1L729.4 390.2L729.9 377.2L730.4 386.8L730.9 376.2L731.4 386.0L731.9 371.9L732.4 381.8L732.9 371.4L733.4 380.7L733.9 372.6L734.4 379.8L734.9 372.6L735.4 379.5L735.9 373.1L736.4 379.2L736.9 372.9L737.4 379.2L737.9 371.9L738.4 379.8L738.9 372.2L739.4 380.7L739.9 373.9L740.4 381.5L740.9 372.5L741.4 382.0L741.9 372.8L742.4 380.3L742.9 371.7L743.4 378.5L743.9 371.8L744.4 378.4L744.9 373.2L745.4 379.7L745.9 375.3L746.4 384.7L746.9 377.7L747.4 387.6L747.9 378.9L748.4 393.7L748.9 383.3L749.4 395.4L749.9 386.8L750.4 398.7L750.9 390.5L751.4 400.6L751.9 389.8L752.4 398.2L752.9 388.5L753.4 396.2L753.9 387.1L754.4 395.9L754.9 386.3L755.4 397.9L755.9 385.9L756.4 396.2L756.9 383.4L757.4 397.3L757.9 381.9L758.4 396.0L758.9 384.8L759.4 394.3L759.9 384.5L760.4 393.8L760.9 383.7L761.4 394.7L761.9 381.9L762.4 394.8L762.9 383.4L763.4 396.4L763.9 384.0L764.4 397.6L764.9 385.7L765.4 400.3L765.9 379.8L766.4 401.1L766.9 375.8L767.4 402.3L767.9 390.8L768.4 401.8L768.9 391.7L769.4 407.6L769.9 383.6L770.2 432.1L770.7 432.1L770.7 400.9L770.4 418.2L770.9 377.0L771.4 401.1L771.9 370.9L772.4 388.2L772.9 368.7L773.4 397.0L773.9 368.9L774.4 398.4L774.9 373.8L774.7 356.1L775.2 356.1L775.2 384.3L775.4 394.8L775.9 378.9L776.4 392.2L776.9 380.7L777.4 393.9L777.9 384.5L778.4 394.5L778.9 386.3L779.4 393.0L779.9 385.0L780.4 392.5L780.9 385.5L781.4 393.7L781.9 384.3L782.4 394.5L782.9 386.5L783.4 397.0L783.9 387.2L784.4 393.4L784.9 380.3L785.4 386.5L785.9 375.1L786.4 382.1L786.9 373.6L787.4 381.2L787.9 373.3L788.4 381.1L788.9 374.4L789.4 382.8L789.9 378.4L790.4 386.5L790.9 381.1L791.4 387.6L791.9 381.8L792.4 387.7L792.9 381.7L793.4 386.8L793.9 382.2L794.4 387.7L794.9 381.8L795.4 386.8L795.9 381.9L796.4 385.8L796.9 378.5L797.4 385.8L797.9 378.9L798.4 385.5L798.9 377.5L799.5 363.5L800.0 363.5L800.0 381.3L799.4 385.1L799.9 375.0L800.4 385.6L800.9 376.2L801.4 388.7L801.9 385.1L802.4 392.5L802.9 386.3L803.4 395.4L803.9 390.7L804.4 397.9L804.9 392.5L805.4 397.5L805.9 392.9L806.4 396.8L806.9 387.5L807.4 393.0L807.9 380.6L808.4 386.6L808.9 376.5L809.4 383.9L809.9 375.6L810.4 380.2L810.9 373.8L811.4 381.5L811.9 374.3L812.4 382.7L812.9 375.5L813.4 384.3L813.9 375.9L814.4 384.0L814.9 375.2L815.4 381.8L815.9 374.7L816.4 382.2L816.9 373.8L817.4 382.4L817.9 374.3L818.4 383.3L818.9 373.6L819.4 382.8L819.9 373.5L820.4 381.8L820.9 374.6L821.4 380.3L821.9 372.9L822.4 382.3L822.9 371.3L823.4 380.0L823.9 372.6L824.4 379.6L824.9 372.8L825.4 378.9L825.9 368.9L826.4 376.5L826.9 365.9L827.4 373.8L827.9 367.7L828.4 374.0L828.9 371.5L829.4 379.1L829.9 375.5L830.4 386.6L830.9 380.4L831.4 390.7L831.9 383.7L832.4 394.0L832.9 381.7L833.4 392.3L833.9 382.5L834.4 395.5L834.9 385.7L835.4 394.9L835.9 387.0L836.4 395.0L836.9 384.0L837.4 392.9L837.9 379.9L838.4 384.7L838.9 377.0L839.4 383.8L839.9 376.1L840.4 382.5L840.9 376.3L841.4 387.3L841.9 378.7L842.4 395.0L842.9 385.6L843.4 401.3L843.9 390.8L844.4 399.3L844.9 391.7L845.4 398.5L845.9 391.7L846.4 398.4L846.9 391.4L847.4 398.7L847.9 389.7L848.4 399.7L848.9 390.9L849.4 403.2L849.9 393.3L850.4 399.9L850.9 393.0L851.4 397.9L851.9 393.1L852.4 398.0L852.9 393.5L853.4 398.4L853.9 389.8L854.4 399.7L854.9 384.8L855.4 391.6L855.9 377.4L856.4 387.1L856.9 372.2L857.4 386.2L857.9 372.1L858.4 387.5L858.9 371.0L859.0 350.6L859.5 350.6L859.5 378.4L859.2 391.8L859.8 391.8L859.8 378.4L859.4 385.9L859.9 372.6L860.4 386.8L860.9 377.9L861.4 388.4L861.9 382.3L862.4 388.5L862.9 381.1L863.4 390.3L863.9 383.6L864.4 390.0L864.9 383.7L865.4 389.5L865.9 383.8L866.4 389.4L866.9 382.1L867.4 389.5L867.9 378.3L868.4 387.9L868.9 377.6L869.4 385.6L869.9 377.8L870.6 364.0L871.1 364.0L871.1 383.4L870.4 389.0L870.9 377.6L871.4 393.0L871.9 382.6L872.4 392.3L872.9 382.9L873.4 390.8L873.9 381.8L874.4 391.7L874.9 383.4L875.4 393.1L875.9 385.9L876.4 395.7L876.9 386.3L877.4 397.0L877.9 385.8L878.4 392.9L878.9 385.5L879.4 390.9L879.9 382.2L880.4 387.5L880.9 376.2L881.4 385.1L881.9 374.9L882.4 383.3L882.9 376.0L882.8 318.3L883.3 318.3L883.3 379.2L882.9 318.3L883.5 318.3L883.5 379.2L883.4 382.4L883.9 375.5L884.4 383.3L884.9 378.1L885.4 385.7L885.9 381.5L886.4 388.4L886.9 384.2L887.4 390.0L887.9 385.1L888.4 391.2L888.9 384.8L889.4 391.5L889.9 382.3L890.4 388.2L890.9 376.7L891.4 384.7L891.9 374.3L892.4 381.7L892.9 373.0L893.4 381.7L893.9 371.7L894.4 380.4L894.9 370.4L895.4 380.6L895.9 368.0L895.6 318.7L896.2 318.7L896.2 374.5L895.8 318.7L896.3 318.7L896.3 374.5L896.4 381.1L896.9 368.0L897.4 380.0L897.9 369.7L898.4 380.5L898.9 372.9L899.5 395.9L900.1 395.9L900.1 376.9L899.4 380.9L899.9 372.0L900.4 379.9L900.9 370.8L901.4 380.0L901.9 371.1L902.4 381.2L902.9 371.1L903.4 381.8L903.9 373.6L904.4 382.6L904.9 374.4L905.3 424.3L905.9 424.3L905.9 379.4L905.4 384.5L905.9 377.0L906.4 391.2L906.9 381.2L907.4 388.3L907.9 378.1L908.4 389.1L908.9 374.7L909.4 386.2L909.9 373.2L910.4 383.0L910.9 370.3L911.4 380.5L911.9 370.0L912.4 382.8L912.9 372.3L913.4 386.1L913.9 374.0L914.4 385.3L914.9 377.2L915.4 388.1L915.9 378.5L916.4 387.0L916.9 380.1L917.4 388.4L917.9 380.8L918.4 388.7L918.9 378.9L919.4 387.2L919.9 381.0L920.4 393.1L920.9 386.5L921.4 397.6L921.9 389.5L922.4 395.9L922.9 389.1L923.4 395.2L923.9 387.2L924.4 393.7L924.9 383.7L925.4 392.3L925.9 381.9L926.4 391.3L926.9 380.8L927.4 390.2L927.9 377.2L928.4 389.0L928.9 370.6L929.4 380.2L929.9 358.5L930.4 372.4L930.9 355.0L931.4 370.4L931.9 353.9L932.4 372.1L932.9 358.4L933.4 377.0L933.9 368.5L934.4 385.5L934.9 378.5L935.4 392.3L935.9 383.3L936.4 396.1L936.9 385.1L937.4 395.4L937.9 383.2L938.4 392.5L938.9 381.7L939.4 390.1L939.9 377.0L940.4 387.4L940.9 376.2L941.4 385.6L941.9 374.5L942.4 387.3L942.9 373.6L943.4 388.8L943.9 371.8L944.4 389.0L944.9 375.9L945.4 388.1L945.9 378.2L946.4 390.6L946.9 381.2L947.4 391.3L947.9 381.7L948.4 391.2L948.9 382.8L949.4 390.2L949.9 382.5L950.4 389.1L950.9 380.6L951.4 387.2L951.9 378.1L952.4 384.2L952.9 369.1L953.0 395.2L953.6 395.2L953.6 375.6L953.4 382.0L953.9 370.8L954.4 380.9L954.9 370.9L955.4 379.9L955.9 370.5L956.4 380.0L956.9 370.7L957.4 381.3L957.9 372.4L958.4 381.5L958.9 373.2L959.0 366.7L959.5 366.7L959.5 379.7L959.4 386.2L959.9 374.7L960.4 381.8L960.9 374.5L961.4 382.1"/>
<path class="k" d="M115.50 494.50v5.25M200.50 494.50v5.25M284.50 494.50v5.25M369.50 494.50v5.25M453.50 494.50v5.25M538.50 494.50v5.25M622.50 494.50v5.25M707.50 494.50v5.25M792.50 494.50v5.25M876.50 494.50v5.25M961.50 494.50v5.25M73.50 317.50h-5.2M73.50 349.50h-5.2M73.50 381.50h-5.2M73.50 413.50h-5.2M73.50 445.50h-5.2M73.50 477.50h-5.2"/>
<rect class="s" x="73.50" y="310.50" width="930.00" height="184.00"/>
<text class="t10" transform="translate(63.00 322.75) scale(0.955 1)" text-anchor="end">0.4</text>
<text class="t10" transform="translate(63.00 354.75) scale(0.955 1)" text-anchor="end">0.2</text>
<text class="t10" transform="translate(63.00 386.75) scale(0.955 1)" text-anchor="end">0.0</text>
<text class="t10" transform="translate(62.85 418.75) scale(0.975 1)" text-anchor="end">−0.2</text>
<text class="t10" transform="translate(62.85 450.75) scale(0.975 1)" text-anchor="end">−0.4</text>
<text class="t10" transform="translate(62.85 482.75) scale(0.975 1)" text-anchor="end">−0.6</text>
<text class="t12" x="538.00" y="301.20" text-anchor="middle">North displacement</text>
<text class="t10" transform="translate(20.70 404.10) rotate(-90)" text-anchor="middle">Disp.</text>
</g>
<g>
<path class="g" d="M115.50 558.50V742.50M200.50 558.50V742.50M284.50 558.50V742.50M369.50 558.50V742.50M453.50 558.50V742.50M538.50 558.50V742.50M622.50 558.50V742.50M707.50 558.50V742.50M792.50 558.50V742.50M876.50 558.50V742.50M961.50 558.50V742.50M73.50 589.50H1003.50M73.50 628.50H1003.50M73.50 667.50H1003.50M73.50 707.50H1003.50"/>
<clipPath id="c2"><rect x="73.50" y="558.50" width="930.00" height="184.00"/></clipPath>
<path class="d" clip-path="url(#c2)" d="M114.9 675.8L115.4 683.9L115.9 676.4L116.4 685.6L116.9 675.7L116.9 693.2L117.5 693.2L117.5 680.5L117.4 685.2L117.9 674.4L118.4 685.0L118.9 670.5L119.4 684.4L119.9 675.4L120.4 684.0L120.9 677.4L121.4 683.2L121.9 675.6L122.4 682.4L122.9 675.0L123.4 682.0L123.9 675.4L124.5 651.8L125.1 651.8L125.1 678.5L124.4 681.6L124.9 672.8L124.8 651.8L125.3 651.8L125.3 678.6L125.4 684.3L125.9 672.9L126.4 682.0L126.9 669.4L127.4 678.1L127.9 667.9L128.1 655.3L128.7 655.3L128.7 672.5L128.4 677.0L128.9 669.2L129.4 675.2L129.9 668.2L130.4 674.5L130.9 667.2L131.4 674.1L131.9 665.6L132.4 671.4L132.9 664.5L133.4 670.9L133.9 661.4L134.4 669.4L134.9 655.5L135.4 668.1L135.9 656.4L136.4 670.5L136.9 657.3L137.4 671.4L137.9 656.8L138.4 672.0L138.9 655.8L139.4 671.8L139.9 656.4L140.4 673.1L140.9 659.2L141.4 674.9L141.9 662.2L142.4 675.9L142.9 662.6L143.4 673.4L143.9 663.0L144.4 671.0L144.9 661.2L145.4 668.6L145.9 661.0L146.4 665.3L146.9 657.2L147.4 663.0L147.9 657.0L148.4 663.3L148.9 656.2L149.4 666.0L149.9 655.5L150.4 665.6L150.9 658.6L151.4 666.2L151.9 660.0L152.4 670.6L152.9 661.6L153.4 669.9L153.9 659.8L154.4 669.9L154.9 661.9L155.4 669.3L155.9 663.6L156.4 670.8L156.9 665.2L157.4 672.8L157.9 668.1L158.4 674.8L158.9 668.7L159.4 677.4L159.9 671.8L160.4 681.3L160.9 672.9L161.4 680.3L161.9 672.3L162.4 681.6L162.9 670.5L163.4 681.4L163.9 670.4L164.4 680.8L164.9 671.2L165.4 678.7L165.9 673.4L166.4 677.8L166.9 671.3L167.4 676.2L167.9 669.3L168.4 676.9L168.9 666.8L169.4 675.9L169.9 668.6L170.4 679.4L170.9 674.7L171.4 681.2L171.9 676.5L172.4 682.5L172.9 676.5L173.4 683.4L173.9 676.4L174.4 686.2L174.9 677.0L175.4 684.3L175.9 676.8L176.4 686.5L176.9 680.9L177.4 688.4L177.9 682.8L178.4 689.7L178.9 685.5L179.4 692.7L179.9 686.6L180.4 694.0L180.9 686.7L181.4 692.9L181.9 684.4L182.4 689.5L182.9 681.0L183.4 685.9L183.9 676.0L184.4 682.0L184.9 673.2L185.4 677.4L185.9 671.8L186.4 676.6L186.9 670.7L187.4 677.4L187.9 671.9L188.4 679.5L188.9 673.1L189.4 682.0L189.9 674.0L190.4 679.2L190.9 674.1L191.4 677.2L191.9 672.8L192.4 679.3L192.9 672.4L193.4 680.7L193.9 673.5L194.4 677.7L194.9 671.4L195.4 678.0L195.9 672.5L196.4 677.6L196.9 670.4L197.4 676.1L197.9 671.1L198.4 676.0L198.9 668.9L199.4 676.3L199.9 669.7L200.4 680.6L200.9 671.5L201.4 680.8L201.9 672.2L202.4 683.4L202.9 670.4L203.4 688.2L203.9 672.2L204.4 683.2L204.9 672.0L205.4 681.0L205.9 672.2L206.4 680.6L206.9 671.6L207.4 680.9L207.9 671.0L208.4 679.8L208.9 670.4L209.4 680.3L209.9 670.0L210.4 679.7L210.9 669.4L211.4 679.3L211.9 670.2L212.4 678.5L212.9 669.9L213.4 676.2L213.9 669.4L214.4 676.1L214.9 669.0L215.4 675.1L215.9 668.5L216.4 674.0L216.9 667.2L217.4 671.8L217.9 664.3L218.4 669.4L218.9 658.8L219.4 665.9L219.9 656.3L220.4 662.7L220.9 654.2L221.4 662.5L221.9 650.5L222.4 663.5L222.9 653.4L223.4 673.8L223.9 657.7L224.4 675.7L224.9 656.7L225.4 675.2L225.9 659.6L226.4 677.4L226.9 660.2L227.4 673.0L227.9 659.5L228.4 669.6L228.9 660.0L229.4 668.1L229.9 660.4L230.4 667.2L230.9 661.0L231.4 666.4L231.9 659.9L232.4 666.7L232.9 659.3L233.4 667.4L233.9 658.9L234.3 676.2L234.9 676.2L234.9 663.1L234.4 667.2L234.9 657.6L235.4 669.3L235.9 662.1L236.4 672.2L236.9 664.9L237.4 672.8L237.9 666.9L238.4 672.5L238.9 666.4L239.4 672.7L239.9 665.0L240.4 672.2L240.9 665.9L241.4 673.7L241.9 665.3L242.4 672.2L242.9 666.6L243.4 673.2L243.9 667.0L244.4 676.0L244.9 668.4L245.4 677.0L245.9 669.2L246.4 679.2L246.9 667.6L247.4 677.8L247.9 665.1L248.4 680.0L248.9 665.5L249.4 679.4L249.9 668.1L250.4 675.8L250.9 668.1L251.4 672.7L251.9 666.2L252.4 671.2L252.9 664.2L253.4 671.9L253.9 663.8L254.4 674.2L254.9 667.8L255.4 675.4L255.9 670.7L256.4 681.2L256.9 674.3L257.4 683.6L257.9 674.5L258.4 682.9L258.9 675.2L259.4 683.3L259.9 676.1L260.6 699.3L261.1 699.3L261.1 681.9L260.4 687.8L260.9 678.5L261.4 686.7L261.9 681.0L262.4 688.9L262.9 682.2L263.4 691.6L263.9 682.7L264.4 693.6L264.9 683.4L265.4 690.7L265.9 682.6L266.4 687.7L266.9 678.6L267.4 682.5L267.9 674.1L268.4 679.4L268.9 671.4L269.4 677.0L269.9 670.1L270.4 675.2L270.9 669.3L271.4 675.2L271.9 669.3L272.4 677.8L272.9 671.1L273.4 683.1L273.9 671.9L274.4 679.5L274.9 674.0L275.4 678.2L275.9 673.2L276.4 679.0L276.9 672.1L277.4 681.6L277.9 672.5L278.4 677.5L278.9 672.1L279.4 677.2L279.9 672.7L280.4 678.6L280.9 672.9L281.4 680.3L281.9 671.8L282.4 678.9L282.9 673.1L283.4 682.0L283.9 673.2L284.4 681.8L284.9 674.7L285.4 682.3L285.9 674.4L286.4 681.3L286.9 672.0L287.1 651.7L287.7 651.7L287.7 676.5L287.4 680.9L287.9 669.4L288.4 680.1L288.9 674.0L289.4 680.7L289.9 673.7L290.4 681.7L290.9 674.1L291.4 681.9L291.9 674.7L292.4 683.4L292.9 672.4L293.4 683.2L293.9 671.3L294.4 681.4L294.9 673.6L295.4 681.3L295.9 673.7L296.4 680.6L296.9 672.3L297.4 680.5L297.9 672.5L298.4 678.6L298.9 672.4L299.4 679.9L299.9 671.8L300.4 679.4L300.9 672.2L301.4 678.4L301.9 669.5L302.4 677.8L302.9 665.6L303.4 675.2L303.9 663.6L304.4 670.0L304.9 661.7L305.5 621.9L306.1 621.9L306.1 667.5L305.4 673.3L305.9 654.2L306.3 680.0L306.8 680.0L306.8 663.5L306.4 672.8L306.9 653.0L307.4 669.5L307.9 655.0L308.4 669.4L308.9 654.5L309.4 631.6L309.9 631.6L309.9 663.2L309.4 672.0L309.9 653.0L310.4 680.1L310.9 651.9L310.6 683.2L311.2 683.2L311.2 664.3L311.4 676.7L311.9 656.7L312.4 673.5L312.9 662.7L313.4 674.6L313.9 667.9L314.4 672.8L314.9 662.3L315.4 666.5L315.9 656.5L316.4 663.6L316.9 656.8L317.4 663.5L317.9 654.9L318.4 663.9L318.9 657.6L319.4 666.3L319.9 657.5L320.4 667.8L320.9 658.5L321.4 668.7L321.9 660.5L322.4 670.8L322.9 659.6L323.4 669.1L323.9 661.3L324.4 671.6L324.9 661.2L325.4 675.6L325.9 663.5L326.4 684.7L326.9 666.2L326.7 696.7L327.3 696.7L327.3 675.1L327.4 684.0L327.9 669.9L328.4 685.0L328.9 669.2L329.4 681.9L329.9 658.0L330.4 680.6L330.9 658.4L331.4 676.3L331.9 661.5L332.4 676.4L332.9 667.4L333.4 679.3L333.9 669.3L334.4 679.3L334.9 671.5L335.4 676.6L335.9 668.8L336.4 674.3L336.9 668.5L337.4 676.3L337.9 668.7L338.4 674.5L338.9 668.8L338.7 652.8L339.2 652.8L339.2 672.0L339.4 675.3L339.9 669.7L340.4 677.3L340.9 671.2L341.4 678.1L341.9 671.9L342.4 681.4L342.9 673.0L343.4 680.8L343.9 673.2L344.4 680.1L344.9 674.9L345.4 682.8L345.9 678.8L346.4 687.1L346.9 681.3L347.4 691.8L347.9 683.3L348.4 692.0L348.9 682.8L349.4 691.6L349.9 683.2L350.4 687.5L350.9 679.9L351.4 684.2L351.9 675.4L352.4 679.6L352.9 671.4L353.4 678.8L353.9 670.3L354.4 676.0L354.9 669.4L355.4 675.9L355.9 670.4L356.4 677.4L356.9 671.8L357.4 679.2L357.9 671.8L358.4 679.6L358.9 672.2L359.4 678.4L359.9 670.8L360.4 679.8L360.9 670.5L361.4 679.5L361.9 671.1L362.4 677.2L362.9 669.3L363.4 679.1L363.9 668.8L364.4 679.7L364.9 671.7L365.4 679.3L365.9 670.6L366.4 679.3L366.9 672.0L367.4 679.1L367.9 670.9L368.4 678.9L368.9 670.5L369.4 680.4L369.9 670.8L370.3 708.1L370.8 708.1L370.8 677.1L370.4 683.3L370.9 671.9L371.4 682.4L371.9 672.5L372.4 680.6L372.9 671.8L373.4 679.8L373.9 670.4L374.4 679.2L374.9 669.4L375.4 678.2L375.9 669.1L376.4 678.7L376.9 668.4L377.4 679.0L377.9 666.6L378.4 681.2L378.9 668.2L379.4 679.9L379.9 669.1L380.4 677.9L380.9 669.8L381.4 676.2L381.9 669.8L382.4 679.4L382.9 667.8L383.4 676.4L383.9 669.8L384.4 677.0L384.9 670.2L385.4 678.5L385.9 668.3L386.4 676.1L386.9 667.4L387.4 673.6L387.9 664.0L388.4 670.6L388.9 660.5L389.4 639.7L390.0 639.7L390.0 665.7L389.4 671.0L389.9 655.7L389.7 639.7L390.2 639.7L390.2 664.1L390.4 672.5L390.9 654.5L391.4 676.7L391.9 656.0L392.0 725.8L392.5 725.8L392.5 668.1L392.4 680.2L392.9 656.0L393.4 679.9L393.9 653.4L394.4 681.3L394.9 655.3L395.4 680.2L395.9 657.6L396.4 677.0L396.9 663.0L397.4 675.8L397.9 665.6L398.4 675.1L398.9 665.4L399.4 669.0L399.9 659.1L400.4 667.6L400.9 659.1L401.4 665.6L401.9 659.4L402.4 666.4L402.9 659.4L403.5 676.0L404.1 676.0L404.1 662.9L403.4 666.4L403.9 659.0L404.4 666.1L404.9 659.3L405.4 664.9L405.9 656.6L406.4 665.9L406.9 657.7L407.4 666.7L407.9 658.0L408.4 666.3L408.9 660.5L409.4 666.5L409.9 660.9L410.4 669.1L410.9 663.0L411.4 670.4L411.9 663.9L412.4 672.8L412.9 666.5L413.4 674.6L413.9 666.5L414.4 675.4L414.9 666.2L415.4 676.0L415.9 659.2L416.4 675.5L416.9 664.2L417.4 676.5L417.9 666.9L418.4 677.0L418.9 667.0L419.4 681.5L419.9 665.7L419.7 723.9L420.3 723.9L420.3 672.3L420.6 605.4L421.2 605.4L421.2 672.3L420.4 678.9L420.9 664.5L420.7 605.4L421.3 605.4L421.3 670.4L421.4 676.2L421.9 664.2L422.4 678.9L422.9 665.8L423.4 682.6L423.9 673.3L424.4 682.8L424.9 672.7L425.4 680.2L425.9 672.1L426.4 678.9L426.9 671.6L427.4 677.1L427.9 670.9L428.4 678.1L428.9 672.7L429.4 681.8L429.9 677.2L430.4 685.8L430.9 680.1L431.4 690.3L431.9 682.6L432.4 692.6L432.9 685.8L432.8 700.2L433.4 700.2L433.4 690.1L433.4 694.3L433.9 686.8L434.4 692.8L434.9 683.4L435.4 689.5L435.9 678.5L436.4 685.6L436.9 674.4L437.4 681.1L437.9 674.1L438.4 678.8L438.9 671.9L439.4 677.7L439.9 671.7L440.4 679.2L440.9 675.0L441.4 682.0L441.9 677.2L442.4 683.7L442.9 677.4L443.4 683.6L443.9 677.0L444.4 681.7L444.9 673.7L445.4 680.5L445.9 674.3L446.4 679.3L446.9 673.2L447.4 678.3L447.9 671.4L448.4 676.9L448.9 669.6L449.4 675.6L449.9 668.8L450.4 675.0L450.9 668.9L451.4 677.6L451.9 671.1L452.4 678.9L452.9 670.3L453.4 679.6L453.9 669.7L454.4 679.7L454.9 663.3L455.4 681.5L455.9 663.2L456.4 679.9L456.9 667.0L457.4 680.1L457.9 669.5L458.4 680.4L458.9 667.5L459.4 680.5L459.9 666.5L460.4 680.8L460.9 668.6L461.4 683.8L461.9 669.3L462.4 682.2L462.9 670.3L463.4 681.5L463.9 671.3L464.4 680.7L464.9 670.8L465.4 679.3L465.9 670.8L466.4 679.0L466.9 671.2L467.4 679.1L467.9 671.8L468.4 680.7L468.9 674.9L469.4 682.6L469.9 674.4L470.4 680.2L470.9 671.5L471.4 678.5L471.9 667.5L472.4 674.0L472.9 663.9L473.4 672.5L473.9 664.2L474.4 566.4L475.0 566.4L475.0 668.3L474.4 672.4L474.9 662.8L475.4 675.0L475.9 665.7L476.5 727.1L477.1 727.1L477.1 675.2L476.4 684.7L476.9 667.1L477.4 686.8L477.9 666.7L478.4 684.1L478.9 661.9L479.4 682.1L479.9 671.8L480.4 679.6L480.9 671.7L481.4 677.5L481.9 670.6L482.4 675.7L482.9 669.2L483.4 672.7L483.9 664.4L484.4 671.3L484.9 662.5L485.4 667.9L485.9 662.2L486.4 670.8L486.9 663.1L487.4 653.5L488.0 653.5L488.0 666.4L487.4 669.6L487.9 662.8L487.8 653.5L488.4 653.5L488.4 666.3L488.4 669.8L488.9 661.0L489.4 670.6L489.9 663.8L490.4 671.8L490.9 662.8L491.4 671.1L491.9 662.0L492.4 673.9L492.9 663.6L493.4 673.2L493.9 665.9L494.4 674.7L494.9 665.9L495.4 696.2L496.0 696.2L496.0 670.7L495.4 675.6L495.9 666.3L496.4 675.3L496.9 667.0L497.4 676.5L497.9 667.6L498.4 678.1L498.9 669.1L499.4 678.7L499.9 666.3L500.4 678.5L500.9 665.2L501.4 678.4L501.9 668.6L502.4 678.7L502.9 665.8L503.4 677.5L503.9 666.0L504.4 676.9L504.9 664.0L504.6 697.1L505.2 697.1L505.2 669.9L505.4 675.9L505.9 664.5L506.4 675.0L506.9 661.7L507.4 674.9L507.9 666.9L508.4 674.5L508.9 667.8L509.4 677.4L509.9 668.8L510.4 677.6L510.9 670.5L511.4 680.0L511.9 670.8L512.4 680.8L512.9 674.5L513.4 682.9L513.9 677.7L514.4 685.9L514.9 681.2L515.4 686.5L515.9 681.4L516.4 689.3L516.9 684.9L517.4 691.6L517.9 685.8L518.4 691.8L518.9 684.0L519.4 691.6L519.9 681.7L520.4 686.6L520.9 678.7L521.4 683.3L521.9 673.6L522.4 680.3L522.9 671.5L523.4 677.6L523.9 672.2L524.4 679.3L524.9 674.1L525.4 682.6L525.9 674.7L526.4 684.5L526.9 676.2L527.4 684.1L527.9 675.2L528.4 681.2L528.9 673.5L529.4 681.8L529.9 674.5L530.4 681.5L530.9 674.0L531.4 681.4L531.9 672.3L532.4 676.6L532.9 670.9L533.4 675.9L533.9 670.3L534.4 676.2L534.9 670.9L535.4 675.4L535.9 670.5L536.4 675.1L536.9 669.4L537.4 677.2L537.9 668.8L538.4 676.9L538.9 667.9L539.1 655.7L539.6 655.7L539.6 671.9L539.6 655.7L540.1 655.7L540.1 671.9L539.4 675.8L539.9 666.5L540.4 676.4L540.9 663.5L541.4 675.1L541.9 665.1L542.4 677.0L542.9 666.9L543.4 675.9L543.9 667.5L544.4 676.6L544.9 666.6L545.4 677.8L545.9 666.5L546.4 680.2L546.9 668.3L547.4 683.0L547.9 668.4L548.4 679.2L548.9 668.0L549.4 675.9L549.9 666.7L550.4 673.6L550.9 665.9L551.4 671.4L551.9 664.7L552.4 673.1L552.9 667.7L553.4 674.1L553.9 666.5L554.4 674.6L554.9 667.6L555.4 673.1L555.9 663.3L556.4 670.3L556.9 662.5L557.4 669.2L557.9 661.7L558.4 667.7L558.9 658.2L559.4 667.5L559.9 658.4L560.4 669.5L560.9 661.9L561.2 712.2L561.7 712.2L561.7 671.7L561.4 681.6L561.9 664.1L562.4 680.9L562.9 666.1L563.4 682.6L563.9 667.7L564.4 679.0L564.9 667.5L565.4 678.5L565.9 668.3L566.4 678.0L566.9 665.7L567.4 679.6L567.9 664.6L568.4 676.9L568.9 667.2L569.4 673.9L569.9 667.6L570.4 675.6L570.9 667.5L571.4 674.0L571.9 665.7L572.4 674.8L572.9 665.7L573.4 677.6L573.9 668.3L574.4 676.9L574.9 669.3L575.4 677.2L575.9 669.1L576.4 675.1L576.9 669.6L577.4 676.1L577.9 670.0L578.4 676.6L578.9 670.5L579.4 676.9L579.9 670.2L579.9 641.6L580.5 641.6L580.5 673.6L580.4 677.1L580.9 671.2L581.4 677.6L581.9 673.5L582.4 682.1L582.9 674.8L583.4 680.6L583.9 672.8L584.4 679.8L584.9 668.4L585.4 678.5L585.9 668.8L586.4 678.5L586.9 668.7L587.4 675.5L587.9 667.6L588.4 674.3L588.9 664.2L589.4 672.7L589.9 662.5L590.4 673.0L590.9 661.0L591.4 675.7L591.9 663.5L592.4 674.7L592.9 667.0L593.4 676.8L593.9 668.2L594.4 675.9L594.9 668.1L595.4 676.2L595.9 667.2L596.4 676.2L596.9 669.3L597.4 676.3L597.9 670.3L598.4 682.7L598.9 676.0L599.4 686.8L599.9 680.6L600.4 691.6L600.9 684.8L601.4 698.0L601.9 684.3L602.4 695.6L602.9 684.2L603.4 692.2L603.9 683.2L604.4 688.6L604.9 680.6L605.4 685.9L605.9 678.0L606.4 684.0L606.9 677.4L607.4 682.7L607.9 676.7L608.4 682.3L608.9 677.0L609.4 684.8L609.9 679.3L610.4 686.8L610.9 680.7L611.4 688.1L611.9 680.3L612.4 686.2L612.9 679.7L613.4 685.7L613.9 679.0L614.4 684.5L614.9 677.1L615.4 683.1L615.9 676.6L616.4 681.7L616.9 674.0L617.4 679.6L617.9 672.3L618.4 677.6L618.9 670.7L619.4 675.7L619.9 670.4L620.4 677.2L620.9 669.4L621.4 677.8L621.9 670.5L622.4 678.6L622.9 671.5L623.6 654.8L624.2 654.8L624.2 674.8L623.4 678.2L623.9 664.8L624.0 654.8L624.5 654.8L624.5 671.9L624.4 679.0L624.9 663.3L625.4 679.1L625.9 666.1L626.4 682.9L626.9 669.3L627.4 682.0L627.9 671.2L628.4 680.2L628.9 668.3L629.4 678.4L629.9 667.9L630.4 680.0L630.9 669.2L631.4 685.9L631.9 672.1L632.4 681.8L632.9 671.3L633.4 677.2L633.9 669.2L634.4 675.7L634.9 668.2L635.4 676.4L635.9 667.2L636.4 677.3L636.9 668.2L637.4 676.0L637.9 669.0L638.4 676.6L638.9 666.4L639.4 674.8L639.9 665.6L640.4 671.6L640.9 664.5L641.4 670.3L641.9 663.3L642.4 669.8L642.9 661.6L643.4 670.2L643.9 662.8L644.4 675.8L644.9 664.6L645.4 684.9L645.9 664.9L646.4 686.0L646.9 667.0L647.4 683.8L647.9 671.0L648.4 684.6L648.9 674.9L649.4 685.6L649.9 676.1L650.4 685.4L650.9 678.2L651.4 684.6L651.9 676.1L652.4 683.8L652.9 675.7L653.4 682.0L653.9 674.2L654.4 681.8L654.9 675.6L655.4 681.9L655.9 676.3L656.5 659.5L657.0 659.5L657.0 681.2L656.4 686.1L656.9 676.3L657.4 685.9L657.9 677.5L658.4 684.5L658.9 675.6L659.4 682.3L659.9 670.7L660.4 679.4L660.9 670.0L661.4 677.3L661.9 671.3L662.4 679.2L662.9 672.6L663.4 680.7L663.9 674.5L664.4 681.4L664.9 675.0L665.4 680.4L665.9 672.8L666.4 680.5L666.9 672.4L667.4 680.7L667.9 674.0L668.4 682.0L668.9 671.9L669.4 679.8L669.9 670.8L670.4 678.7L670.9 669.5L671.4 676.9L671.9 668.8L672.4 676.7L672.9 666.7L673.4 673.4L673.9 664.7L674.4 675.3L674.9 667.7L675.4 677.4L675.9 667.2L676.4 680.9L676.9 671.4L677.4 679.9L677.9 672.5L678.4 680.8L678.9 673.4L679.4 683.4L679.9 674.0L680.4 683.9L680.9 676.0L681.4 684.7L681.9 678.1L682.4 686.4L682.9 679.9L683.4 689.7L683.9 684.5L684.4 692.4L684.9 685.3L685.4 695.1L685.9 687.2L686.4 696.9L686.9 687.4L687.4 695.3L687.9 684.3L688.4 691.9L688.9 678.8L689.4 689.2L689.9 677.9L690.4 685.3L690.9 676.1L691.4 682.2L691.9 675.2L692.4 680.0L692.9 675.5L693.4 682.8L693.9 676.1L694.4 686.5L694.9 680.3L695.4 689.7L695.9 681.2L696.4 688.2L696.9 681.4L697.4 688.4L697.9 680.4L698.4 685.7L698.9 679.4L699.4 684.6L699.9 678.6L700.4 683.6L700.9 678.1L701.4 682.6L701.9 677.9L702.4 683.9L702.9 677.2L703.4 684.0L703.9 677.2L704.4 684.3L704.9 676.2L705.4 685.6L705.9 677.0L706.4 684.9L706.9 676.8L707.4 684.2L707.9 670.8L708.4 684.0L708.9 669.3L709.0 651.6L709.6 651.6L709.6 676.4L709.4 683.6L709.9 670.2L710.4 683.9L710.9 672.0L711.4 684.2L711.9 672.9L712.4 682.4L712.9 669.0L713.4 682.7L713.9 666.3L714.4 682.1L714.9 669.1L715.4 684.0L715.9 671.0L716.4 685.0L716.9 672.5L717.4 682.7L717.9 668.2L718.4 676.6L718.9 667.0L719.4 674.8L719.9 665.5L720.4 675.0L720.9 668.1L721.4 676.2L721.9 666.5L722.4 676.6L722.9 668.2L723.4 677.0L723.9 666.3L724.2 723.2L724.7 723.2L724.7 671.9L724.4 677.6L724.9 665.2L725.4 673.7L725.9 665.7L726.4 673.9L726.9 667.5L727.4 676.7L727.9 668.2L728.4 678.5L728.9 668.5L729.4 680.1L729.9 667.6L730.4 686.1L730.9 668.8L731.4 687.7L731.9 671.5L732.4 687.8L732.9 673.8L733.4 687.1L733.9 679.6L734.4 687.2L734.9 678.7L735.4 685.5L735.9 678.8L736.4 685.0L736.9 678.3L737.4 684.7L737.9 679.1L738.4 683.6L738.9 677.7L739.4 683.5L739.9 677.1L740.4 683.2L740.9 676.6L741.4 682.7L741.9 675.9L742.6 659.9L743.1 659.9L743.1 679.8L742.4 683.7L742.9 674.4L743.4 683.9L743.9 672.0L744.4 681.6L744.9 671.9L745.4 679.6L745.9 673.2L746.4 686.0L746.9 676.3L747.4 690.0L747.9 676.6L748.3 692.6L748.9 692.6L748.9 683.3L748.4 690.0L748.9 669.3L749.4 682.8L749.9 668.5L750.4 677.3L750.9 671.6L751.4 680.4L751.9 673.5L752.4 682.4L752.9 674.5L753.4 684.0L753.9 675.1L754.4 684.2L754.9 673.0L755.4 681.2L755.9 669.8L756.4 677.2L756.9 665.3L757.4 673.6L757.9 664.2L758.4 674.0L758.9 666.9L759.4 677.7L759.9 668.8L760.4 679.4L760.9 669.7L761.4 683.1L761.9 671.0L762.4 682.6L762.9 671.6L763.4 682.5L763.9 672.9L764.4 681.0L764.9 671.9L765.4 678.7L765.9 669.8L766.1 651.8L766.6 651.8L766.6 673.6L766.4 677.5L766.9 669.6L767.4 678.1L767.9 671.6L768.4 681.8L768.9 675.5L769.4 686.5L769.9 679.4L770.4 693.0L770.9 682.5L771.4 695.3L771.9 683.0L772.4 695.0L772.9 675.4L773.4 685.9L773.9 668.4L774.4 690.0L774.9 667.3L774.7 691.9L775.2 691.9L775.2 674.5L775.4 681.7L775.9 666.1L776.4 676.4L776.9 666.9L777.4 678.8L777.9 667.8L778.4 680.4L778.9 673.1L779.4 685.3L779.9 677.0L780.4 687.1L780.9 679.1L781.4 687.3L781.9 678.5L782.4 685.1L782.9 673.4L783.4 681.2L783.9 670.5L784.2 661.5L784.7 661.5L784.7 677.0L784.4 683.6L784.9 670.4L785.4 678.8L785.9 670.6L786.4 677.3L786.9 670.6L787.4 676.9L787.9 670.2L788.4 678.1L788.9 672.3L789.4 680.0L789.9 675.9L790.4 686.3L790.9 677.6L791.4 688.1L791.9 679.6L792.4 685.8L792.9 677.2L793.4 681.6L793.9 675.3L794.4 681.4L794.9 673.9L795.4 678.1L795.9 672.2L796.4 676.8L796.9 669.5L797.4 677.3L797.9 664.9L798.4 676.2L798.9 664.3L799.2 687.4L799.8 687.4L799.8 676.9L799.4 689.5L799.9 665.6L800.4 682.2L800.9 670.1L801.4 679.1L801.9 667.7L802.4 676.5L802.9 665.4L803.4 671.8L803.9 663.7L804.4 670.6L804.9 663.3L805.4 670.0L805.9 662.8L806.4 669.5L806.9 662.3L807.4 669.3L807.9 661.5L808.4 668.9L808.9 661.1L809.4 667.7L809.9 659.9L810.4 666.3L810.9 657.3L811.4 665.4L811.9 656.7L812.4 666.3L812.9 658.0L813.4 669.0L813.9 660.9L814.4 672.3L814.9 660.0L815.4 674.8L815.9 662.7L816.4 677.0L816.9 664.8L817.4 679.2L817.9 671.4L818.4 680.3L818.9 675.3L819.4 682.8L819.9 677.4L820.4 684.1L820.9 675.5L821.4 681.9L821.9 674.4L822.4 679.7L822.9 674.7L823.4 680.9L823.9 676.4L824.4 682.0L824.9 677.6L825.4 683.0L825.9 678.0L826.4 685.7L826.9 678.8L827.4 688.1L827.9 678.6L828.4 686.8L828.9 678.6L829.4 684.3L829.9 675.7L830.4 684.8L830.9 668.9L831.4 682.2L831.9 670.7L832.4 686.1L832.9 675.8L833.5 694.3L834.1 694.3L834.1 684.8L833.4 693.8L833.9 675.6L834.4 689.7L834.9 673.8L835.4 686.5L835.9 672.9L836.4 684.9L836.9 671.7L837.4 683.0L837.9 672.8L838.4 683.0L838.9 671.2L839.4 678.0L839.9 670.1L840.4 675.4L840.9 668.4L841.4 675.5L841.9 666.6L842.4 674.7L842.9 669.8L843.4 677.3L843.9 671.2L844.4 678.5L844.9 670.8L845.4 680.3L845.9 673.9L846.4 683.2L846.9 674.9L847.4 683.8L847.9 676.2L848.4 685.1L848.9 675.0L849.4 680.9L849.9 674.5L850.4 680.3L850.9 675.3L851.4 682.1L851.9 677.7L852.4 685.7L852.9 680.9L853.4 690.7L853.9 683.4L854.4 695.5L854.9 685.5L855.4 695.6L855.9 684.3L856.4 693.9L856.9 682.5L857.4 693.2L857.9 680.7L858.4 695.4L858.9 680.4L859.0 696.6L859.5 696.6L859.5 686.4L859.4 692.4L859.9 676.8L860.4 684.7L860.9 676.0L861.4 682.1L861.9 676.3L862.4 686.3L862.9 677.8L863.4 689.4L863.9 682.7L864.4 689.9L864.9 682.8L865.4 688.0L865.9 682.9L866.4 687.5L866.9 681.7L867.4 688.6L867.9 680.9L868.4 685.5L868.9 679.7L869.4 688.4L869.9 677.9L870.4 684.7L870.9 675.8L871.4 682.5L871.9 672.4L872.4 678.9L872.9 667.6L873.4 678.2L873.9 664.5L874.4 677.1L874.9 668.0L875.4 676.3L875.9 668.6L876.4 676.8L876.9 661.7L877.4 676.6L877.9 662.1L878.4 677.3L878.9 665.8L879.4 681.1L879.9 668.9L880.4 681.3L880.9 668.6L881.4 681.9L881.9 667.8L882.4 680.5L882.9 667.6L882.9 733.0L883.5 733.0L883.5 674.1L883.4 680.5L883.9 667.6L884.4 680.4L884.9 668.0L885.4 681.3L885.9 668.0L886.4 675.5L886.9 667.4L887.4 673.7L887.9 663.8L888.4 673.1L888.9 664.9L889.4 670.9L889.9 663.6L890.4 670.5L890.9 663.2L891.4 669.0L891.9 663.1L892.4 667.2L892.9 658.6L893.4 665.4L893.9 655.7L894.4 662.0L894.9 653.1L895.4 635.8L895.9 635.8L895.9 659.5L895.4 665.8L895.9 652.7L895.8 635.8L896.3 635.8L896.3 659.9L896.4 667.1L896.9 653.5L897.4 666.3L897.9 654.8L898.4 666.9L898.9 657.1L899.4 666.4L899.9 658.4L899.6 637.4L900.2 637.4L900.2 663.2L900.4 668.0L900.9 658.7L901.4 670.6L901.9 664.1L902.4 675.4L902.9 667.8L903.4 677.9L903.9 666.9L904.4 677.2L904.9 667.7L905.4 677.3L905.9 669.2L906.4 677.3L906.9 668.8L907.4 677.9L907.9 668.3L908.4 676.9L908.9 668.2L909.4 675.7L909.9 667.2L910.4 673.8L910.9 668.1L911.1 658.9L911.7 658.9L911.7 671.6L911.4 675.1L911.9 669.2L912.4 680.3L912.9 672.0L912.6 701.2L913.2 701.2L913.2 676.3L913.4 680.5L913.9 673.2L914.4 682.1L914.9 676.5L915.4 685.1L915.9 679.2L916.4 686.0L916.9 681.6L917.4 685.5L917.9 679.9L918.4 686.6L918.9 682.0L919.4 687.6L919.9 670.9L920.4 686.3L920.9 672.8L921.4 685.7L921.9 675.3L922.4 685.2L922.9 670.7L923.4 684.2L923.9 677.8L924.4 680.9L924.9 672.4L925.4 679.0L925.9 669.3L926.4 677.3L926.9 669.2L927.4 676.5L927.9 667.2L928.4 676.2L928.9 669.0L929.4 676.1L929.9 668.6L930.4 674.7L930.9 667.7L931.4 673.7L931.9 663.9L932.4 672.0L932.9 664.3L933.4 671.3L933.9 665.9L934.4 675.5L934.9 670.1L935.4 681.0L935.9 675.2L936.4 687.4L936.9 681.2L937.4 689.3L937.9 684.0L938.4 693.7L938.9 686.7L939.4 693.2L939.9 683.4L940.4 691.3L940.9 682.9L941.4 688.3L941.9 679.8L942.4 683.2L942.9 676.0L943.4 680.6L943.9 675.0L944.4 679.5L944.9 674.4L945.4 680.5L945.9 675.5L946.4 682.2L946.9 675.1L947.4 683.3L947.9 676.2L948.4 683.4L948.9 675.2L949.4 682.8L949.9 671.4L950.4 681.5L950.9 673.5L951.4 682.4L951.9 673.3L952.4 680.7L952.9 671.9L953.4 679.0L953.9 672.2L954.4 679.2L954.9 670.0L955.4 679.6L955.9 670.3L956.4 681.0L956.9 670.8L957.4 683.2L957.9 671.2L958.4 684.9L958.9 672.0L959.4 684.5L959.9 671.7L960.4 681.7L960.9 674.6L961.4 681.3"/>
<path class="k" d="M115.50 742.50v5.25M200.50 742.50v5.25M284.50 742.50v5.25M369.50 742.50v5.25M453.50 742.50v5.25M538.50 742.50v5.25M622.50 742.50v5.25M707.50 742.50v5.25M792.50 742.50v5.25M876.50 742.50v5.25M961.50 742.50v5.25M73.50 589.50h-5.2M73.50 628.50h-5.2M73.50 667.50h-5.2M73.50 707.50h-5.2"/>
<rect class="s" x="73.50" y="558.50" width="930.00" height="184.00"/>
<text class="t10" transform="translate(63.00 593.95) scale(0.955 1)" text-anchor="end">1.0</text>
<text class="t10" transform="translate(63.00 633.75) scale(0.955 1)" text-anchor="end">0.5</text>
<text class="t10" transform="translate(63.00 672.75) scale(0.955 1)" text-anchor="end">0.0</text>
<text class="t10" transform="translate(62.85 712.15) scale(0.975 1)" text-anchor="end">−0.5</text>
<text class="t12" x="538.20" y="549.20" text-anchor="middle">Up displacement</text>
<text class="t10" transform="translate(21.70 652.90) rotate(-90)" text-anchor="middle">Disp.</text>
</g>
<text class="t10" transform="translate(115.07 763.2) scale(0.986 1)" text-anchor="middle">2024-12-03</text>
<text class="t10" transform="translate(199.62 763.2) scale(0.986 1)" text-anchor="middle">2024-12-04</text>
<text class="t10" transform="translate(284.16 763.2) scale(0.986 1)" text-anchor="middle">2024-12-05</text>
<text class="t10" transform="translate(368.70 763.2) scale(0.986 1)" text-anchor="middle">2024-12-06</text>
<text class="t10" transform="translate(453.25 763.2) scale(0.986 1)" text-anchor="middle">2024-12-07</text>
<text class="t10" transform="translate(537.79 763.2) scale(0.986 1)" text-anchor="middle">2024-12-08</text>
<text class="t10" transform="translate(622.34 763.2) scale(0.986 1)" text-anchor="middle">2024-12-09</text>
<text class="t10" transform="translate(706.88 763.2) scale(0.986 1)" text-anchor="middle">2024-12-10</text>
<text class="t10" transform="translate(791.43 763.2) scale(0.986 1)" text-anchor="middle">2024-12-11</text>
<text class="t10" transform="translate(875.97 763.2) scale(0.986 1)" text-anchor="middle">2024-12-12</text>
<text class="t10" transform="translate(960.52 763.2) scale(0.986 1)" text-anchor="middle">2024-12-13</text>
<text class="t10" x="537.4" y="783" text-anchor="middle">Time (UTC)</text>
</svg></body></html>
